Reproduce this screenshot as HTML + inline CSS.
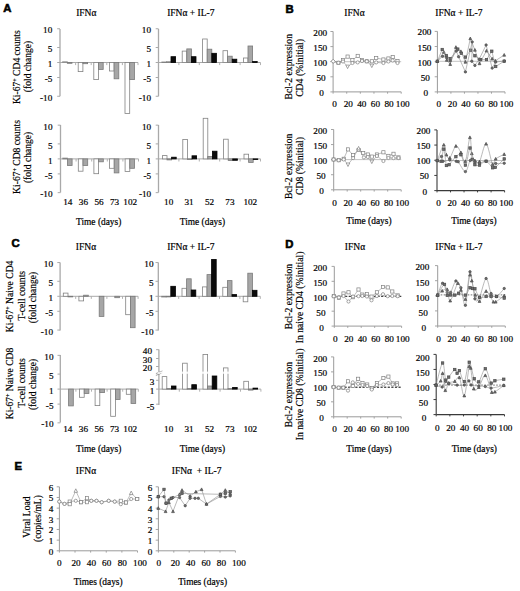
<!DOCTYPE html>
<html><head><meta charset="utf-8"><style>
html,body{margin:0;padding:0;background:#fff;}
body{width:520px;height:591px;overflow:hidden;}
svg{display:block;}
text{fill:#000;stroke:#000;stroke-width:0.2px;}
.Sm{font-family:"Liberation Serif",serif;text-anchor:middle;}
.Se{font-family:"Liberation Serif",serif;text-anchor:end;}
.Ss{font-family:"Liberation Serif",serif;text-anchor:start;}
.Bs{font-family:"Liberation Sans",sans-serif;font-weight:bold;text-anchor:start;}
</style></head><body>
<svg width="520" height="591" viewBox="0 0 520 591">
<rect width="520" height="591" fill="#fff"/>
<text class="Bs" x="3.2" y="12.4" font-size="11.3" style="stroke-width:0.6px">A</text>
<text class="Bs" x="285.4" y="12.6" font-size="11.3" style="stroke-width:0.6px">B</text>
<text class="Bs" x="11.6" y="246.8" font-size="11.3" style="stroke-width:0.6px">C</text>
<text class="Bs" x="285.2" y="248.0" font-size="11.3" style="stroke-width:0.6px">D</text>
<text class="Bs" x="14.4" y="470.2" font-size="11.3" style="stroke-width:0.6px">E</text>
<text class="Sm" x="86.3" y="16.0" font-size="9.5">IFN&#945;</text>
<text class="Sm" x="190.8" y="16.0" font-size="9.5">IFN&#945; + IL-7</text>
<text class="Sm" x="354.5" y="16.2" font-size="9.5">IFN&#945;</text>
<text class="Sm" x="458.9" y="16.0" font-size="9.5">IFN&#945; + IL-7</text>
<text class="Sm" x="86.0" y="250.4" font-size="9.5">IFN&#945;</text>
<text class="Sm" x="190.8" y="250.4" font-size="9.5">IFN&#945; + IL-7</text>
<text class="Sm" x="355.0" y="250.4" font-size="9.5">IFN&#945;</text>
<text class="Sm" x="458.9" y="250.4" font-size="9.5">IFN&#945; + IL-7</text>
<text class="Sm" x="86.0" y="474.2" font-size="9.5">IFN&#945;</text>
<text class="Sm" x="196.6" y="474.2" font-size="9.5">IFN&#945;&#160; + IL-7</text>
<line x1="60.0" y1="28.9" x2="60.0" y2="96.3" stroke="#a9a9a9" stroke-width="1.3"/>
<line x1="57.2" y1="28.75" x2="60.0" y2="28.75" stroke="#a9a9a9" stroke-width="1"/>
<text class="Se" x="52.3" y="33.05" font-size="9.2">10</text>
<line x1="57.2" y1="47.5" x2="60.0" y2="47.5" stroke="#a9a9a9" stroke-width="1"/>
<text class="Se" x="52.3" y="51.8" font-size="9.2">5</text>
<line x1="57.2" y1="62.5" x2="60.0" y2="62.5" stroke="#a9a9a9" stroke-width="1"/>
<text class="Se" x="52.3" y="66.8" font-size="9.2">1</text>
<line x1="57.2" y1="77.5" x2="60.0" y2="77.5" stroke="#a9a9a9" stroke-width="1"/>
<text class="Se" x="52.3" y="81.8" font-size="9.2">-5</text>
<line x1="57.2" y1="96.25" x2="60.0" y2="96.25" stroke="#a9a9a9" stroke-width="1"/>
<text class="Se" x="52.3" y="100.55" font-size="9.2">-10</text>
<line x1="60.0" y1="62.5" x2="138.0" y2="62.5" stroke="#a9a9a9" stroke-width="1"/>
<line x1="75.6" y1="62.5" x2="75.6" y2="65.1" stroke="#a9a9a9" stroke-width="0.9"/>
<line x1="91.2" y1="62.5" x2="91.2" y2="65.1" stroke="#a9a9a9" stroke-width="0.9"/>
<line x1="106.8" y1="62.5" x2="106.8" y2="65.1" stroke="#a9a9a9" stroke-width="0.9"/>
<line x1="122.4" y1="62.5" x2="122.4" y2="65.1" stroke="#a9a9a9" stroke-width="0.9"/>
<line x1="138.0" y1="62.5" x2="138.0" y2="65.1" stroke="#a9a9a9" stroke-width="0.9"/>
<rect x="62.60" y="61.80" width="4.7" height="0.70" fill="#ffffff" stroke="#828282" stroke-width="0.8"/>
<rect x="67.30" y="62.50" width="4.7" height="0.80" fill="#a6a6a6" stroke="#7a7a7a" stroke-width="0.8"/>
<rect x="78.20" y="62.50" width="4.7" height="9.10" fill="#ffffff" stroke="#828282" stroke-width="0.8"/>
<rect x="82.90" y="62.50" width="4.7" height="1.20" fill="#a6a6a6" stroke="#7a7a7a" stroke-width="0.8"/>
<rect x="93.80" y="62.50" width="4.7" height="17.10" fill="#ffffff" stroke="#828282" stroke-width="0.8"/>
<rect x="98.50" y="62.50" width="4.7" height="6.90" fill="#a6a6a6" stroke="#7a7a7a" stroke-width="0.8"/>
<rect x="109.40" y="62.50" width="4.7" height="8.50" fill="#ffffff" stroke="#828282" stroke-width="0.8"/>
<rect x="114.10" y="62.50" width="4.7" height="16.30" fill="#a6a6a6" stroke="#7a7a7a" stroke-width="0.8"/>
<rect x="125.00" y="62.50" width="4.7" height="50.90" fill="#ffffff" stroke="#828282" stroke-width="0.8"/>
<rect x="129.70" y="62.50" width="4.7" height="17.10" fill="#a6a6a6" stroke="#7a7a7a" stroke-width="0.8"/>
<line x1="158.5" y1="28.9" x2="158.5" y2="96.3" stroke="#a9a9a9" stroke-width="1.3"/>
<line x1="155.7" y1="28.75" x2="158.5" y2="28.75" stroke="#a9a9a9" stroke-width="1"/>
<text class="Se" x="151.0" y="33.35" font-size="9.2">10</text>
<line x1="155.7" y1="47.5" x2="158.5" y2="47.5" stroke="#a9a9a9" stroke-width="1"/>
<text class="Se" x="151.0" y="52.1" font-size="9.2">5</text>
<line x1="155.7" y1="62.5" x2="158.5" y2="62.5" stroke="#a9a9a9" stroke-width="1"/>
<text class="Se" x="151.0" y="67.1" font-size="9.2">1</text>
<line x1="155.7" y1="77.5" x2="158.5" y2="77.5" stroke="#a9a9a9" stroke-width="1"/>
<text class="Se" x="151.0" y="82.1" font-size="9.2">-5</text>
<line x1="155.7" y1="96.25" x2="158.5" y2="96.25" stroke="#a9a9a9" stroke-width="1"/>
<text class="Se" x="151.0" y="100.85" font-size="9.2">-10</text>
<line x1="158.5" y1="62.5" x2="260.5" y2="62.5" stroke="#a9a9a9" stroke-width="1"/>
<line x1="178.9" y1="62.5" x2="178.9" y2="65.1" stroke="#a9a9a9" stroke-width="0.9"/>
<line x1="199.3" y1="62.5" x2="199.3" y2="65.1" stroke="#a9a9a9" stroke-width="0.9"/>
<line x1="219.7" y1="62.5" x2="219.7" y2="65.1" stroke="#a9a9a9" stroke-width="0.9"/>
<line x1="240.1" y1="62.5" x2="240.1" y2="65.1" stroke="#a9a9a9" stroke-width="0.9"/>
<line x1="260.5" y1="62.5" x2="260.5" y2="65.1" stroke="#a9a9a9" stroke-width="0.9"/>
<rect x="161.80" y="62.00" width="4.6" height="0.60" fill="#ffffff" stroke="#828282" stroke-width="0.8"/>
<rect x="166.40" y="61.80" width="4.6" height="0.70" fill="#a6a6a6" stroke="#7a7a7a" stroke-width="0.8"/>
<rect x="171.00" y="56.70" width="4.6" height="5.80" fill="#0a0a0a" stroke="#000000" stroke-width="0.8"/>
<rect x="182.20" y="51.10" width="4.6" height="11.40" fill="#ffffff" stroke="#828282" stroke-width="0.8"/>
<rect x="186.80" y="48.90" width="4.6" height="13.60" fill="#a6a6a6" stroke="#7a7a7a" stroke-width="0.8"/>
<rect x="191.40" y="56.70" width="4.6" height="5.80" fill="#0a0a0a" stroke="#000000" stroke-width="0.8"/>
<rect x="202.60" y="39.00" width="4.6" height="23.50" fill="#ffffff" stroke="#828282" stroke-width="0.8"/>
<rect x="207.20" y="49.20" width="4.6" height="13.30" fill="#a6a6a6" stroke="#7a7a7a" stroke-width="0.8"/>
<rect x="211.80" y="53.30" width="4.6" height="9.20" fill="#0a0a0a" stroke="#000000" stroke-width="0.8"/>
<rect x="223.00" y="50.70" width="4.6" height="11.80" fill="#ffffff" stroke="#828282" stroke-width="0.8"/>
<rect x="227.60" y="56.20" width="4.6" height="6.30" fill="#a6a6a6" stroke="#7a7a7a" stroke-width="0.8"/>
<rect x="232.20" y="59.20" width="4.6" height="3.30" fill="#0a0a0a" stroke="#000000" stroke-width="0.8"/>
<rect x="243.40" y="58.00" width="4.6" height="4.50" fill="#ffffff" stroke="#828282" stroke-width="0.8"/>
<rect x="248.00" y="46.00" width="4.6" height="16.50" fill="#a6a6a6" stroke="#7a7a7a" stroke-width="0.8"/>
<rect x="252.60" y="61.50" width="4.6" height="1.00" fill="#0a0a0a" stroke="#000000" stroke-width="0.8"/>
<line x1="60.5" y1="125.0" x2="60.5" y2="192.5" stroke="#a9a9a9" stroke-width="1.3"/>
<line x1="57.7" y1="125.15" x2="60.5" y2="125.15" stroke="#a9a9a9" stroke-width="1"/>
<text class="Se" x="52.5" y="129.75" font-size="9.2">10</text>
<line x1="57.7" y1="143.9" x2="60.5" y2="143.9" stroke="#a9a9a9" stroke-width="1"/>
<text class="Se" x="52.5" y="148.5" font-size="9.2">5</text>
<line x1="57.7" y1="158.9" x2="60.5" y2="158.9" stroke="#a9a9a9" stroke-width="1"/>
<text class="Se" x="52.5" y="163.5" font-size="9.2">1</text>
<line x1="57.7" y1="173.9" x2="60.5" y2="173.9" stroke="#a9a9a9" stroke-width="1"/>
<text class="Se" x="52.5" y="178.5" font-size="9.2">-5</text>
<line x1="57.7" y1="192.65" x2="60.5" y2="192.65" stroke="#a9a9a9" stroke-width="1"/>
<text class="Se" x="52.5" y="197.25" font-size="9.2">-10</text>
<line x1="60.5" y1="158.9" x2="138.5" y2="158.9" stroke="#a9a9a9" stroke-width="1"/>
<line x1="76.1" y1="158.9" x2="76.1" y2="161.5" stroke="#a9a9a9" stroke-width="0.9"/>
<line x1="91.7" y1="158.9" x2="91.7" y2="161.5" stroke="#a9a9a9" stroke-width="0.9"/>
<line x1="107.3" y1="158.9" x2="107.3" y2="161.5" stroke="#a9a9a9" stroke-width="0.9"/>
<line x1="122.9" y1="158.9" x2="122.9" y2="161.5" stroke="#a9a9a9" stroke-width="0.9"/>
<line x1="138.5" y1="158.9" x2="138.5" y2="161.5" stroke="#a9a9a9" stroke-width="0.9"/>
<rect x="62.70" y="158.10" width="4.7" height="0.80" fill="#ffffff" stroke="#828282" stroke-width="0.8"/>
<rect x="67.40" y="158.90" width="4.7" height="6.60" fill="#a6a6a6" stroke="#7a7a7a" stroke-width="0.8"/>
<rect x="78.30" y="158.90" width="4.7" height="12.30" fill="#ffffff" stroke="#828282" stroke-width="0.8"/>
<rect x="83.00" y="158.90" width="4.7" height="6.60" fill="#a6a6a6" stroke="#7a7a7a" stroke-width="0.8"/>
<rect x="93.90" y="158.90" width="4.7" height="14.80" fill="#ffffff" stroke="#828282" stroke-width="0.8"/>
<rect x="98.60" y="158.90" width="4.7" height="2.90" fill="#a6a6a6" stroke="#7a7a7a" stroke-width="0.8"/>
<rect x="109.50" y="158.90" width="4.7" height="9.40" fill="#ffffff" stroke="#828282" stroke-width="0.8"/>
<rect x="114.20" y="158.90" width="4.7" height="14.00" fill="#a6a6a6" stroke="#7a7a7a" stroke-width="0.8"/>
<rect x="125.10" y="158.90" width="4.7" height="12.70" fill="#ffffff" stroke="#828282" stroke-width="0.8"/>
<rect x="129.80" y="158.90" width="4.7" height="9.40" fill="#a6a6a6" stroke="#7a7a7a" stroke-width="0.8"/>
<line x1="158.5" y1="125.0" x2="158.5" y2="192.5" stroke="#a9a9a9" stroke-width="1.3"/>
<line x1="155.7" y1="125.15" x2="158.5" y2="125.15" stroke="#a9a9a9" stroke-width="1"/>
<text class="Se" x="151.2" y="129.75" font-size="9.2">10</text>
<line x1="155.7" y1="143.9" x2="158.5" y2="143.9" stroke="#a9a9a9" stroke-width="1"/>
<text class="Se" x="151.2" y="148.5" font-size="9.2">5</text>
<line x1="155.7" y1="158.9" x2="158.5" y2="158.9" stroke="#a9a9a9" stroke-width="1"/>
<text class="Se" x="151.2" y="163.5" font-size="9.2">1</text>
<line x1="155.7" y1="173.9" x2="158.5" y2="173.9" stroke="#a9a9a9" stroke-width="1"/>
<text class="Se" x="151.2" y="178.5" font-size="9.2">-5</text>
<line x1="155.7" y1="192.65" x2="158.5" y2="192.65" stroke="#a9a9a9" stroke-width="1"/>
<text class="Se" x="151.2" y="197.25" font-size="9.2">-10</text>
<line x1="158.5" y1="158.9" x2="260.5" y2="158.9" stroke="#a9a9a9" stroke-width="1"/>
<line x1="178.9" y1="158.9" x2="178.9" y2="161.5" stroke="#a9a9a9" stroke-width="0.9"/>
<line x1="199.3" y1="158.9" x2="199.3" y2="161.5" stroke="#a9a9a9" stroke-width="0.9"/>
<line x1="219.7" y1="158.9" x2="219.7" y2="161.5" stroke="#a9a9a9" stroke-width="0.9"/>
<line x1="240.1" y1="158.9" x2="240.1" y2="161.5" stroke="#a9a9a9" stroke-width="0.9"/>
<line x1="260.5" y1="158.9" x2="260.5" y2="161.5" stroke="#a9a9a9" stroke-width="0.9"/>
<rect x="162.40" y="155.60" width="4.6" height="3.30" fill="#ffffff" stroke="#828282" stroke-width="0.8"/>
<rect x="167.00" y="158.90" width="4.6" height="1.00" fill="#a6a6a6" stroke="#7a7a7a" stroke-width="0.8"/>
<rect x="171.60" y="157.20" width="4.6" height="1.70" fill="#0a0a0a" stroke="#000000" stroke-width="0.8"/>
<rect x="182.80" y="139.50" width="4.6" height="19.40" fill="#ffffff" stroke="#828282" stroke-width="0.8"/>
<rect x="187.40" y="158.90" width="4.6" height="0.60" fill="#a6a6a6" stroke="#7a7a7a" stroke-width="0.8"/>
<rect x="192.00" y="155.80" width="4.6" height="3.10" fill="#0a0a0a" stroke="#000000" stroke-width="0.8"/>
<rect x="203.20" y="118.30" width="4.6" height="40.60" fill="#ffffff" stroke="#828282" stroke-width="0.8"/>
<rect x="207.80" y="156.40" width="4.6" height="2.50" fill="#a6a6a6" stroke="#7a7a7a" stroke-width="0.8"/>
<rect x="212.40" y="151.20" width="4.6" height="7.70" fill="#0a0a0a" stroke="#000000" stroke-width="0.8"/>
<rect x="223.60" y="139.20" width="4.6" height="19.70" fill="#ffffff" stroke="#828282" stroke-width="0.8"/>
<rect x="228.20" y="158.90" width="4.6" height="1.70" fill="#a6a6a6" stroke="#7a7a7a" stroke-width="0.8"/>
<rect x="232.80" y="158.90" width="4.6" height="1.40" fill="#0a0a0a" stroke="#000000" stroke-width="0.8"/>
<rect x="244.00" y="154.20" width="4.6" height="4.70" fill="#ffffff" stroke="#828282" stroke-width="0.8"/>
<rect x="248.60" y="158.90" width="4.6" height="3.50" fill="#a6a6a6" stroke="#7a7a7a" stroke-width="0.8"/>
<rect x="253.20" y="158.90" width="4.6" height="0.70" fill="#0a0a0a" stroke="#000000" stroke-width="0.8"/>
<text class="Sm" x="67.8" y="204.8" font-size="9.2">14</text>
<text class="Sm" x="83.4" y="204.8" font-size="9.2">36</text>
<text class="Sm" x="99.0" y="204.8" font-size="9.2">56</text>
<text class="Sm" x="114.6" y="204.8" font-size="9.2">73</text>
<text class="Sm" x="130.2" y="204.8" font-size="9.2">102</text>
<text class="Sm" x="168.7" y="204.8" font-size="9.2">10</text>
<text class="Sm" x="189.1" y="204.8" font-size="9.2">31</text>
<text class="Sm" x="209.5" y="204.8" font-size="9.2">52</text>
<text class="Sm" x="229.89999999999998" y="204.8" font-size="9.2">73</text>
<text class="Sm" x="250.3" y="204.8" font-size="9.2">102</text>
<text class="Sm" x="98.7" y="224.8" font-size="9.4">Time (days)</text>
<text class="Sm" x="202.4" y="224.8" font-size="9.4">Time (days)</text>
<text class="Sm" x="19.6" y="67.2" transform="rotate(-90 19.6 67.2)" font-size="9.6" style="stroke-width:0.18px">Ki-67<tspan font-size="6" dy="-3">+</tspan><tspan dy="3"> </tspan>CD4 counts</text>
<text class="Sm" x="31.0" y="66.5" transform="rotate(-90 31.0 66.5)" font-size="9.6" style="stroke-width:0.18px">(fold change)</text>
<text class="Sm" x="19.6" y="157.0" transform="rotate(-90 19.6 157.0)" font-size="9.6" style="stroke-width:0.18px">Ki-67<tspan font-size="6" dy="-3">+</tspan><tspan dy="3"> </tspan>CD8 counts</text>
<text class="Sm" x="31.0" y="157.4" transform="rotate(-90 31.0 157.4)" font-size="9.6" style="stroke-width:0.18px">(fold change)</text>
<line x1="60.1" y1="262.5" x2="60.1" y2="330.5" stroke="#a9a9a9" stroke-width="1.3"/>
<line x1="57.300000000000004" y1="262.55" x2="60.1" y2="262.55" stroke="#a9a9a9" stroke-width="1"/>
<text class="Se" x="53.0" y="267.45" font-size="9.2">10</text>
<line x1="57.300000000000004" y1="281.3" x2="60.1" y2="281.3" stroke="#a9a9a9" stroke-width="1"/>
<text class="Se" x="53.0" y="286.2" font-size="9.2">5</text>
<line x1="57.300000000000004" y1="296.3" x2="60.1" y2="296.3" stroke="#a9a9a9" stroke-width="1"/>
<text class="Se" x="53.0" y="301.2" font-size="9.2">1</text>
<line x1="57.300000000000004" y1="311.3" x2="60.1" y2="311.3" stroke="#a9a9a9" stroke-width="1"/>
<text class="Se" x="53.0" y="316.2" font-size="9.2">-5</text>
<line x1="57.300000000000004" y1="330.05" x2="60.1" y2="330.05" stroke="#a9a9a9" stroke-width="1"/>
<text class="Se" x="53.0" y="334.95" font-size="9.2">-10</text>
<line x1="60.1" y1="296.3" x2="138.1" y2="296.3" stroke="#a9a9a9" stroke-width="1"/>
<line x1="75.7" y1="296.3" x2="75.7" y2="298.90000000000003" stroke="#a9a9a9" stroke-width="0.9"/>
<line x1="91.3" y1="296.3" x2="91.3" y2="298.90000000000003" stroke="#a9a9a9" stroke-width="0.9"/>
<line x1="106.9" y1="296.3" x2="106.9" y2="298.90000000000003" stroke="#a9a9a9" stroke-width="0.9"/>
<line x1="122.5" y1="296.3" x2="122.5" y2="298.90000000000003" stroke="#a9a9a9" stroke-width="0.9"/>
<line x1="138.1" y1="296.3" x2="138.1" y2="298.90000000000003" stroke="#a9a9a9" stroke-width="0.9"/>
<rect x="63.30" y="293.10" width="4.7" height="3.20" fill="#ffffff" stroke="#828282" stroke-width="0.8"/>
<rect x="68.00" y="296.30" width="4.7" height="0.60" fill="#a6a6a6" stroke="#7a7a7a" stroke-width="0.8"/>
<rect x="78.90" y="296.30" width="4.7" height="4.60" fill="#ffffff" stroke="#828282" stroke-width="0.8"/>
<rect x="83.60" y="295.20" width="4.7" height="1.10" fill="#a6a6a6" stroke="#7a7a7a" stroke-width="0.8"/>
<rect x="99.20" y="296.30" width="4.7" height="20.10" fill="#a6a6a6" stroke="#7a7a7a" stroke-width="0.8"/>
<rect x="114.80" y="296.30" width="4.7" height="1.40" fill="#a6a6a6" stroke="#7a7a7a" stroke-width="0.8"/>
<rect x="125.70" y="296.30" width="4.7" height="18.40" fill="#ffffff" stroke="#828282" stroke-width="0.8"/>
<rect x="130.40" y="296.30" width="4.7" height="31.40" fill="#a6a6a6" stroke="#7a7a7a" stroke-width="0.8"/>
<line x1="158.3" y1="262.5" x2="158.3" y2="330.5" stroke="#a9a9a9" stroke-width="1.3"/>
<line x1="155.5" y1="262.55" x2="158.3" y2="262.55" stroke="#a9a9a9" stroke-width="1"/>
<text class="Se" x="153.5" y="267.45" font-size="9.2">10</text>
<line x1="155.5" y1="281.3" x2="158.3" y2="281.3" stroke="#a9a9a9" stroke-width="1"/>
<text class="Se" x="153.5" y="286.2" font-size="9.2">5</text>
<line x1="155.5" y1="296.3" x2="158.3" y2="296.3" stroke="#a9a9a9" stroke-width="1"/>
<text class="Se" x="153.5" y="301.2" font-size="9.2">1</text>
<line x1="155.5" y1="311.3" x2="158.3" y2="311.3" stroke="#a9a9a9" stroke-width="1"/>
<text class="Se" x="153.5" y="316.2" font-size="9.2">-5</text>
<line x1="155.5" y1="330.05" x2="158.3" y2="330.05" stroke="#a9a9a9" stroke-width="1"/>
<text class="Se" x="153.5" y="334.95" font-size="9.2">-10</text>
<line x1="158.3" y1="296.3" x2="260.3" y2="296.3" stroke="#a9a9a9" stroke-width="1"/>
<line x1="178.70000000000002" y1="296.3" x2="178.70000000000002" y2="298.90000000000003" stroke="#a9a9a9" stroke-width="0.9"/>
<line x1="199.10000000000002" y1="296.3" x2="199.10000000000002" y2="298.90000000000003" stroke="#a9a9a9" stroke-width="0.9"/>
<line x1="219.5" y1="296.3" x2="219.5" y2="298.90000000000003" stroke="#a9a9a9" stroke-width="0.9"/>
<line x1="239.9" y1="296.3" x2="239.9" y2="298.90000000000003" stroke="#a9a9a9" stroke-width="0.9"/>
<line x1="260.3" y1="296.3" x2="260.3" y2="298.90000000000003" stroke="#a9a9a9" stroke-width="0.9"/>
<rect x="161.60" y="296.30" width="4.6" height="0.70" fill="#ffffff" stroke="#828282" stroke-width="0.8"/>
<rect x="166.20" y="296.30" width="4.6" height="0.60" fill="#a6a6a6" stroke="#7a7a7a" stroke-width="0.8"/>
<rect x="170.80" y="286.30" width="4.6" height="10.00" fill="#0a0a0a" stroke="#000000" stroke-width="0.8"/>
<rect x="182.00" y="288.30" width="4.6" height="8.00" fill="#ffffff" stroke="#828282" stroke-width="0.8"/>
<rect x="186.60" y="278.80" width="4.6" height="17.50" fill="#a6a6a6" stroke="#7a7a7a" stroke-width="0.8"/>
<rect x="191.20" y="290.00" width="4.6" height="6.30" fill="#0a0a0a" stroke="#000000" stroke-width="0.8"/>
<rect x="202.40" y="286.90" width="4.6" height="9.40" fill="#ffffff" stroke="#828282" stroke-width="0.8"/>
<rect x="207.00" y="274.60" width="4.6" height="21.70" fill="#a6a6a6" stroke="#7a7a7a" stroke-width="0.8"/>
<rect x="211.60" y="259.40" width="4.6" height="36.90" fill="#0a0a0a" stroke="#000000" stroke-width="0.8"/>
<rect x="222.80" y="287.30" width="4.6" height="9.00" fill="#ffffff" stroke="#828282" stroke-width="0.8"/>
<rect x="227.40" y="280.60" width="4.6" height="15.70" fill="#a6a6a6" stroke="#7a7a7a" stroke-width="0.8"/>
<rect x="232.00" y="294.60" width="4.6" height="1.70" fill="#0a0a0a" stroke="#000000" stroke-width="0.8"/>
<rect x="243.20" y="296.30" width="4.6" height="5.50" fill="#ffffff" stroke="#828282" stroke-width="0.8"/>
<rect x="247.80" y="273.20" width="4.6" height="23.10" fill="#a6a6a6" stroke="#7a7a7a" stroke-width="0.8"/>
<rect x="252.40" y="290.30" width="4.6" height="6.00" fill="#0a0a0a" stroke="#000000" stroke-width="0.8"/>
<line x1="60.3" y1="355.0" x2="60.3" y2="422.5" stroke="#a9a9a9" stroke-width="1.3"/>
<line x1="57.5" y1="355.35" x2="60.3" y2="355.35" stroke="#a9a9a9" stroke-width="1"/>
<text class="Se" x="53.5" y="359.75" font-size="9.2">10</text>
<line x1="57.5" y1="374.1" x2="60.3" y2="374.1" stroke="#a9a9a9" stroke-width="1"/>
<text class="Se" x="53.5" y="378.5" font-size="9.2">5</text>
<line x1="57.5" y1="389.1" x2="60.3" y2="389.1" stroke="#a9a9a9" stroke-width="1"/>
<text class="Se" x="53.5" y="393.5" font-size="9.2">1</text>
<line x1="57.5" y1="404.1" x2="60.3" y2="404.1" stroke="#a9a9a9" stroke-width="1"/>
<text class="Se" x="53.5" y="408.5" font-size="9.2">-5</text>
<line x1="57.5" y1="422.85" x2="60.3" y2="422.85" stroke="#a9a9a9" stroke-width="1"/>
<text class="Se" x="53.5" y="427.25" font-size="9.2">-10</text>
<line x1="60.3" y1="389.1" x2="138.3" y2="389.1" stroke="#a9a9a9" stroke-width="1"/>
<line x1="75.89999999999999" y1="389.1" x2="75.89999999999999" y2="391.70000000000005" stroke="#a9a9a9" stroke-width="0.9"/>
<line x1="91.5" y1="389.1" x2="91.5" y2="391.70000000000005" stroke="#a9a9a9" stroke-width="0.9"/>
<line x1="107.1" y1="389.1" x2="107.1" y2="391.70000000000005" stroke="#a9a9a9" stroke-width="0.9"/>
<line x1="122.69999999999999" y1="389.1" x2="122.69999999999999" y2="391.70000000000005" stroke="#a9a9a9" stroke-width="0.9"/>
<line x1="138.3" y1="389.1" x2="138.3" y2="391.70000000000005" stroke="#a9a9a9" stroke-width="0.9"/>
<rect x="68.60" y="389.10" width="4.7" height="16.80" fill="#a6a6a6" stroke="#7a7a7a" stroke-width="0.8"/>
<rect x="79.50" y="389.10" width="4.7" height="8.20" fill="#ffffff" stroke="#828282" stroke-width="0.8"/>
<rect x="84.20" y="389.10" width="4.7" height="4.40" fill="#a6a6a6" stroke="#7a7a7a" stroke-width="0.8"/>
<rect x="95.10" y="389.10" width="4.7" height="16.50" fill="#ffffff" stroke="#828282" stroke-width="0.8"/>
<rect x="99.80" y="389.10" width="4.7" height="3.50" fill="#a6a6a6" stroke="#7a7a7a" stroke-width="0.8"/>
<rect x="110.70" y="389.10" width="4.7" height="27.20" fill="#ffffff" stroke="#828282" stroke-width="0.8"/>
<rect x="115.40" y="389.10" width="4.7" height="10.40" fill="#a6a6a6" stroke="#7a7a7a" stroke-width="0.8"/>
<rect x="126.30" y="389.10" width="4.7" height="5.20" fill="#ffffff" stroke="#828282" stroke-width="0.8"/>
<rect x="131.00" y="389.10" width="4.7" height="14.40" fill="#a6a6a6" stroke="#7a7a7a" stroke-width="0.8"/>
<line x1="158.9" y1="349.5" x2="158.9" y2="405" stroke="#a9a9a9" stroke-width="1.3"/>
<line x1="156.1" y1="349.7" x2="158.9" y2="349.7" stroke="#a9a9a9" stroke-width="1"/>
<text class="Se" x="152.0" y="354.1" font-size="9.2">40</text>
<line x1="156.1" y1="358.5" x2="158.9" y2="358.5" stroke="#a9a9a9" stroke-width="1"/>
<text class="Se" x="152.0" y="362.9" font-size="9.2">30</text>
<line x1="156.1" y1="366.5" x2="158.9" y2="366.5" stroke="#a9a9a9" stroke-width="1"/>
<text class="Se" x="152.0" y="370.9" font-size="9.2">20</text>
<line x1="156.1" y1="380.3" x2="158.9" y2="380.3" stroke="#a9a9a9" stroke-width="1"/>
<text class="Se" x="154.3" y="384.7" font-size="9.2">3</text>
<line x1="156.1" y1="389.1" x2="158.9" y2="389.1" stroke="#a9a9a9" stroke-width="1"/>
<text class="Se" x="154.3" y="393.5" font-size="9.2">1</text>
<line x1="156.1" y1="404.2" x2="158.9" y2="404.2" stroke="#a9a9a9" stroke-width="1"/>
<text class="Se" x="154.3" y="409.8" font-size="9.2">-5</text>
<line x1="155.9" y1="373.6" x2="162.4" y2="371.0" stroke="#888" stroke-width="0.8"/>
<line x1="155.9" y1="375.4" x2="162.4" y2="372.8" stroke="#888" stroke-width="0.8"/>
<rect x="157.9" y="372.2" width="2" height="1.6" fill="#fff"/>
<line x1="158.9" y1="389.1" x2="260.9" y2="389.1" stroke="#a9a9a9" stroke-width="1"/>
<line x1="179.3" y1="389.1" x2="179.3" y2="391.70000000000005" stroke="#a9a9a9" stroke-width="0.9"/>
<line x1="199.7" y1="389.1" x2="199.7" y2="391.70000000000005" stroke="#a9a9a9" stroke-width="0.9"/>
<line x1="220.1" y1="389.1" x2="220.1" y2="391.70000000000005" stroke="#a9a9a9" stroke-width="0.9"/>
<line x1="240.5" y1="389.1" x2="240.5" y2="391.70000000000005" stroke="#a9a9a9" stroke-width="0.9"/>
<line x1="260.9" y1="389.1" x2="260.9" y2="391.70000000000005" stroke="#a9a9a9" stroke-width="0.9"/>
<rect x="162.20" y="376.60" width="4.6" height="12.50" fill="#ffffff" stroke="#828282" stroke-width="0.8"/>
<rect x="166.80" y="388.60" width="4.6" height="0.60" fill="#a6a6a6" stroke="#7a7a7a" stroke-width="0.8"/>
<rect x="171.40" y="386.00" width="4.6" height="3.10" fill="#0a0a0a" stroke="#000" stroke-width="0.8"/>
<rect x="182.60" y="363.20" width="4.6" height="25.90" fill="#ffffff" stroke="#828282" stroke-width="0.8"/>
<rect x="187.20" y="388.60" width="4.6" height="0.60" fill="#a6a6a6" stroke="#7a7a7a" stroke-width="0.8"/>
<rect x="191.80" y="384.70" width="4.6" height="4.40" fill="#0a0a0a" stroke="#000" stroke-width="0.8"/>
<rect x="203.00" y="354.40" width="4.6" height="34.70" fill="#ffffff" stroke="#828282" stroke-width="0.8"/>
<rect x="207.60" y="386.00" width="4.6" height="3.10" fill="#a6a6a6" stroke="#7a7a7a" stroke-width="0.8"/>
<rect x="212.20" y="376.00" width="4.6" height="13.10" fill="#0a0a0a" stroke="#000" stroke-width="0.8"/>
<rect x="223.40" y="367.90" width="4.6" height="21.20" fill="#ffffff" stroke="#828282" stroke-width="0.8"/>
<rect x="228.00" y="388.60" width="4.6" height="0.60" fill="#a6a6a6" stroke="#7a7a7a" stroke-width="0.8"/>
<rect x="232.60" y="387.40" width="4.6" height="1.70" fill="#0a0a0a" stroke="#000" stroke-width="0.8"/>
<rect x="243.80" y="381.30" width="4.6" height="7.80" fill="#ffffff" stroke="#828282" stroke-width="0.8"/>
<rect x="248.40" y="389.10" width="4.6" height="1.00" fill="#a6a6a6" stroke="#7a7a7a" stroke-width="0.8"/>
<rect x="253.00" y="388.10" width="4.6" height="1.00" fill="#0a0a0a" stroke="#000" stroke-width="0.8"/>
<rect x="160.4" y="371.6" width="100.0" height="2.2" fill="#fff" opacity="0.85"/>
<text class="Sm" x="67.8" y="432.3" font-size="9.2">14</text>
<text class="Sm" x="83.4" y="432.3" font-size="9.2">36</text>
<text class="Sm" x="99.0" y="432.3" font-size="9.2">56</text>
<text class="Sm" x="114.6" y="432.3" font-size="9.2">73</text>
<text class="Sm" x="130.2" y="432.3" font-size="9.2">102</text>
<text class="Sm" x="168.7" y="432.3" font-size="9.2">10</text>
<text class="Sm" x="189.1" y="432.3" font-size="9.2">31</text>
<text class="Sm" x="209.5" y="432.3" font-size="9.2">52</text>
<text class="Sm" x="229.89999999999998" y="432.3" font-size="9.2">73</text>
<text class="Sm" x="250.3" y="432.3" font-size="9.2">102</text>
<text class="Sm" x="98.7" y="451.6" font-size="9.4">Time (days)</text>
<text class="Sm" x="202.4" y="451.6" font-size="9.4">Time (days)</text>
<text class="Sm" x="12.6" y="296.4" transform="rotate(-90 12.6 296.4)" font-size="9.6" style="stroke-width:0.18px">Ki-67<tspan font-size="6" dy="-3">+</tspan><tspan dy="3"> </tspan>Naive CD4</text>
<text class="Sm" x="24.8" y="295.7" transform="rotate(-90 24.8 295.7)" font-size="9.6" style="stroke-width:0.18px">T-cell counts</text>
<text class="Sm" x="35.8" y="297.5" transform="rotate(-90 35.8 297.5)" font-size="9.6" style="stroke-width:0.18px">(fold change)</text>
<text class="Sm" x="12.6" y="383.5" transform="rotate(-90 12.6 383.5)" font-size="9.6" style="stroke-width:0.18px">Ki-67<tspan font-size="6" dy="-3">+</tspan><tspan dy="3"> </tspan>Naive CD8</text>
<text class="Sm" x="24.8" y="383.0" transform="rotate(-90 24.8 383.0)" font-size="9.6" style="stroke-width:0.18px">T-cell counts</text>
<text class="Sm" x="35.8" y="384.4" transform="rotate(-90 35.8 384.4)" font-size="9.6" style="stroke-width:0.18px">(fold change)</text>
<line x1="333.1" y1="31.5" x2="333.1" y2="91.9" stroke="#9a9a9a" stroke-width="1.0"/>
<line x1="333.1" y1="91.9" x2="401.2" y2="91.9" stroke="#9a9a9a" stroke-width="1.0"/>
<line x1="330.40000000000003" y1="31.50" x2="333.1" y2="31.50" stroke="#9a9a9a" stroke-width="0.9"/>
<text class="Se" x="327.1" y="35.5" font-size="9.2">200</text>
<line x1="330.40000000000003" y1="46.60" x2="333.1" y2="46.60" stroke="#9a9a9a" stroke-width="0.9"/>
<text class="Se" x="327.1" y="50.6" font-size="9.2">150</text>
<line x1="330.40000000000003" y1="61.70" x2="333.1" y2="61.70" stroke="#9a9a9a" stroke-width="0.9"/>
<text class="Se" x="327.1" y="65.7" font-size="9.2">100</text>
<line x1="330.40000000000003" y1="76.80" x2="333.1" y2="76.80" stroke="#9a9a9a" stroke-width="0.9"/>
<text class="Se" x="325.6" y="80.8" font-size="9.2">50</text>
<line x1="330.40000000000003" y1="91.90" x2="333.1" y2="91.90" stroke="#9a9a9a" stroke-width="0.9"/>
<text class="Se" x="323.9" y="95.9" font-size="9.2">0</text>
<line x1="333.10" y1="91.9" x2="333.10" y2="93.7" stroke="#9a9a9a" stroke-width="0.9"/>
<text class="Sm" x="334.6" y="107.4" font-size="9.2">0</text>
<line x1="346.72" y1="91.9" x2="346.72" y2="93.7" stroke="#9a9a9a" stroke-width="0.9"/>
<text class="Sm" x="348.22" y="107.4" font-size="9.2">20</text>
<line x1="360.34" y1="91.9" x2="360.34" y2="93.7" stroke="#9a9a9a" stroke-width="0.9"/>
<text class="Sm" x="361.84" y="107.4" font-size="9.2">40</text>
<line x1="373.96" y1="91.9" x2="373.96" y2="93.7" stroke="#9a9a9a" stroke-width="0.9"/>
<text class="Sm" x="375.46" y="107.4" font-size="9.2">60</text>
<line x1="387.58" y1="91.9" x2="387.58" y2="93.7" stroke="#9a9a9a" stroke-width="0.9"/>
<text class="Sm" x="389.08" y="107.4" font-size="9.2">80</text>
<line x1="401.20" y1="91.9" x2="401.20" y2="93.7" stroke="#9a9a9a" stroke-width="0.9"/>
<text class="Sm" x="402.7" y="107.4" font-size="9.2">100</text>
<line x1="333.1" y1="61.7" x2="401.2" y2="61.7" stroke="#9a9a9a" stroke-width="0.6"/>
<polyline points="333.20,61.30 338.40,62.80 343.00,60.20 347.60,56.60 352.40,60.20 357.70,55.90 362.00,60.20 366.80,61.30 371.80,61.30 376.20,58.00 383.40,59.50 388.40,58.50 392.70,57.00 397.50,61.00" fill="none" stroke="#999999" stroke-width="0.65"/>
<path d="M333.20 59.30L335.20 61.30L333.20 63.30L331.20 61.30Z" fill="#ffffff" stroke="#808080" stroke-width="0.7"/>
<rect x="336.80" y="61.20" width="3.2" height="3.2" fill="#ffffff" stroke="#808080" stroke-width="0.7"/>
<rect x="341.40" y="58.60" width="3.2" height="3.2" fill="#ffffff" stroke="#808080" stroke-width="0.7"/>
<rect x="346.00" y="55.00" width="3.2" height="3.2" fill="#ffffff" stroke="#808080" stroke-width="0.7"/>
<rect x="350.80" y="58.60" width="3.2" height="3.2" fill="#ffffff" stroke="#808080" stroke-width="0.7"/>
<rect x="356.10" y="54.30" width="3.2" height="3.2" fill="#ffffff" stroke="#808080" stroke-width="0.7"/>
<rect x="360.40" y="58.60" width="3.2" height="3.2" fill="#ffffff" stroke="#808080" stroke-width="0.7"/>
<rect x="365.20" y="59.70" width="3.2" height="3.2" fill="#ffffff" stroke="#808080" stroke-width="0.7"/>
<rect x="370.20" y="59.70" width="3.2" height="3.2" fill="#ffffff" stroke="#808080" stroke-width="0.7"/>
<rect x="374.60" y="56.40" width="3.2" height="3.2" fill="#ffffff" stroke="#808080" stroke-width="0.7"/>
<rect x="381.80" y="57.90" width="3.2" height="3.2" fill="#ffffff" stroke="#808080" stroke-width="0.7"/>
<rect x="386.80" y="56.90" width="3.2" height="3.2" fill="#ffffff" stroke="#808080" stroke-width="0.7"/>
<rect x="391.10" y="55.40" width="3.2" height="3.2" fill="#ffffff" stroke="#808080" stroke-width="0.7"/>
<rect x="395.90" y="59.40" width="3.2" height="3.2" fill="#ffffff" stroke="#808080" stroke-width="0.7"/>
<polyline points="333.20,61.30 338.40,62.80 343.00,61.50 347.60,66.70 352.40,63.00 357.70,62.40 362.00,61.00 366.80,61.30 371.80,65.70 376.20,62.40 383.40,63.00 388.40,61.50 392.70,60.50 397.50,63.00" fill="none" stroke="#999999" stroke-width="0.65"/>
<path d="M333.20 59.30L335.20 61.30L333.20 63.30L331.20 61.30Z" fill="#ffffff" stroke="#808080" stroke-width="0.7"/>
<circle cx="338.40" cy="62.80" r="1.6" fill="#ffffff" stroke="#808080" stroke-width="0.7"/>
<circle cx="343.00" cy="61.50" r="1.6" fill="#ffffff" stroke="#808080" stroke-width="0.7"/>
<path d="M347.60 68.60L349.40 65.10L345.80 65.10Z" fill="#ffffff" stroke="#808080" stroke-width="0.7"/>
<circle cx="352.40" cy="63.00" r="1.6" fill="#ffffff" stroke="#808080" stroke-width="0.7"/>
<circle cx="357.70" cy="62.40" r="1.6" fill="#ffffff" stroke="#808080" stroke-width="0.7"/>
<circle cx="362.00" cy="61.00" r="1.6" fill="#ffffff" stroke="#808080" stroke-width="0.7"/>
<circle cx="366.80" cy="61.30" r="1.6" fill="#ffffff" stroke="#808080" stroke-width="0.7"/>
<path d="M371.80 67.60L373.60 64.10L370.00 64.10Z" fill="#ffffff" stroke="#808080" stroke-width="0.7"/>
<circle cx="376.20" cy="62.40" r="1.6" fill="#ffffff" stroke="#808080" stroke-width="0.7"/>
<circle cx="383.40" cy="63.00" r="1.6" fill="#ffffff" stroke="#808080" stroke-width="0.7"/>
<circle cx="388.40" cy="61.50" r="1.6" fill="#ffffff" stroke="#808080" stroke-width="0.7"/>
<circle cx="392.70" cy="60.50" r="1.6" fill="#ffffff" stroke="#808080" stroke-width="0.7"/>
<circle cx="397.50" cy="63.00" r="1.6" fill="#ffffff" stroke="#808080" stroke-width="0.7"/>
<line x1="437.4" y1="31.4" x2="437.4" y2="91.9" stroke="#9a9a9a" stroke-width="1.0"/>
<line x1="437.4" y1="91.9" x2="505.0" y2="91.9" stroke="#9a9a9a" stroke-width="1.0"/>
<line x1="434.7" y1="31.40" x2="437.4" y2="31.40" stroke="#9a9a9a" stroke-width="0.9"/>
<text class="Se" x="431.4" y="35.4" font-size="9.2">200</text>
<line x1="434.7" y1="46.52" x2="437.4" y2="46.52" stroke="#9a9a9a" stroke-width="0.9"/>
<text class="Se" x="431.4" y="50.52" font-size="9.2">150</text>
<line x1="434.7" y1="61.65" x2="437.4" y2="61.65" stroke="#9a9a9a" stroke-width="0.9"/>
<text class="Se" x="431.4" y="65.65" font-size="9.2">100</text>
<line x1="434.7" y1="76.78" x2="437.4" y2="76.78" stroke="#9a9a9a" stroke-width="0.9"/>
<text class="Se" x="429.9" y="80.78" font-size="9.2">50</text>
<line x1="434.7" y1="91.90" x2="437.4" y2="91.90" stroke="#9a9a9a" stroke-width="0.9"/>
<text class="Se" x="428.2" y="95.9" font-size="9.2">0</text>
<line x1="437.40" y1="91.9" x2="437.40" y2="93.7" stroke="#9a9a9a" stroke-width="0.9"/>
<text class="Sm" x="438.9" y="107.4" font-size="9.2">0</text>
<line x1="450.92" y1="91.9" x2="450.92" y2="93.7" stroke="#9a9a9a" stroke-width="0.9"/>
<text class="Sm" x="452.42" y="107.4" font-size="9.2">20</text>
<line x1="464.44" y1="91.9" x2="464.44" y2="93.7" stroke="#9a9a9a" stroke-width="0.9"/>
<text class="Sm" x="465.94" y="107.4" font-size="9.2">40</text>
<line x1="477.96" y1="91.9" x2="477.96" y2="93.7" stroke="#9a9a9a" stroke-width="0.9"/>
<text class="Sm" x="479.46" y="107.4" font-size="9.2">60</text>
<line x1="491.48" y1="91.9" x2="491.48" y2="93.7" stroke="#9a9a9a" stroke-width="0.9"/>
<text class="Sm" x="492.98" y="107.4" font-size="9.2">80</text>
<line x1="505.00" y1="91.9" x2="505.00" y2="93.7" stroke="#9a9a9a" stroke-width="0.9"/>
<text class="Sm" x="506.5" y="107.4" font-size="9.2">100</text>
<line x1="437.4" y1="61.3" x2="505" y2="61.3" stroke="#9a9a9a" stroke-width="0.6"/>
<polyline points="437.30,61.30 443.80,52.10 446.80,60.10 450.20,64.30 455.90,47.20 460.90,51.40 465.40,62.00 470.30,38.50 474.90,50.00 479.50,63.50 486.50,50.80 492.20,58.80 495.30,60.80 504.20,55.00" fill="none" stroke="#959595" stroke-width="0.65"/>
<path d="M437.30 59.80L438.70 62.50L435.90 62.50Z" fill="#6e6e6e" stroke="#4a4a4a" stroke-width="0.7"/>
<path d="M443.80 50.60L445.20 53.30L442.40 53.30Z" fill="#6e6e6e" stroke="#4a4a4a" stroke-width="0.7"/>
<path d="M446.80 58.60L448.20 61.30L445.40 61.30Z" fill="#6e6e6e" stroke="#4a4a4a" stroke-width="0.7"/>
<path d="M450.20 62.80L451.60 65.50L448.80 65.50Z" fill="#6e6e6e" stroke="#4a4a4a" stroke-width="0.7"/>
<path d="M455.90 45.70L457.30 48.40L454.50 48.40Z" fill="#6e6e6e" stroke="#4a4a4a" stroke-width="0.7"/>
<path d="M460.90 49.90L462.30 52.60L459.50 52.60Z" fill="#6e6e6e" stroke="#4a4a4a" stroke-width="0.7"/>
<path d="M465.40 60.50L466.80 63.20L464.00 63.20Z" fill="#6e6e6e" stroke="#4a4a4a" stroke-width="0.7"/>
<path d="M470.30 37.00L471.70 39.70L468.90 39.70Z" fill="#6e6e6e" stroke="#4a4a4a" stroke-width="0.7"/>
<path d="M474.90 48.50L476.30 51.20L473.50 51.20Z" fill="#6e6e6e" stroke="#4a4a4a" stroke-width="0.7"/>
<path d="M479.50 62.00L480.90 64.70L478.10 64.70Z" fill="#6e6e6e" stroke="#4a4a4a" stroke-width="0.7"/>
<path d="M486.50 49.30L487.90 52.00L485.10 52.00Z" fill="#6e6e6e" stroke="#4a4a4a" stroke-width="0.7"/>
<path d="M492.20 57.30L493.60 60.00L490.80 60.00Z" fill="#6e6e6e" stroke="#4a4a4a" stroke-width="0.7"/>
<path d="M495.30 59.30L496.70 62.00L493.90 62.00Z" fill="#6e6e6e" stroke="#4a4a4a" stroke-width="0.7"/>
<path d="M504.20 53.50L505.60 56.20L502.80 56.20Z" fill="#6e6e6e" stroke="#4a4a4a" stroke-width="0.7"/>
<polyline points="437.30,61.30 442.20,49.50 446.40,55.50 450.20,58.60 457.80,49.10 461.30,53.30 465.40,57.10 470.80,50.20 474.90,55.80 480.70,59.60 486.50,59.60 491.80,51.20 495.70,66.50 504.20,61.20" fill="none" stroke="#959595" stroke-width="0.65"/>
<rect x="436.10" y="60.10" width="2.4" height="2.4" fill="#6e6e6e" stroke="#4a4a4a" stroke-width="0.7"/>
<rect x="441.00" y="48.30" width="2.4" height="2.4" fill="#6e6e6e" stroke="#4a4a4a" stroke-width="0.7"/>
<rect x="445.20" y="54.30" width="2.4" height="2.4" fill="#6e6e6e" stroke="#4a4a4a" stroke-width="0.7"/>
<rect x="449.00" y="57.40" width="2.4" height="2.4" fill="#6e6e6e" stroke="#4a4a4a" stroke-width="0.7"/>
<rect x="456.60" y="47.90" width="2.4" height="2.4" fill="#6e6e6e" stroke="#4a4a4a" stroke-width="0.7"/>
<rect x="460.10" y="52.10" width="2.4" height="2.4" fill="#6e6e6e" stroke="#4a4a4a" stroke-width="0.7"/>
<rect x="464.20" y="55.90" width="2.4" height="2.4" fill="#6e6e6e" stroke="#4a4a4a" stroke-width="0.7"/>
<rect x="469.60" y="49.00" width="2.4" height="2.4" fill="#6e6e6e" stroke="#4a4a4a" stroke-width="0.7"/>
<rect x="473.70" y="54.60" width="2.4" height="2.4" fill="#6e6e6e" stroke="#4a4a4a" stroke-width="0.7"/>
<rect x="479.50" y="58.40" width="2.4" height="2.4" fill="#6e6e6e" stroke="#4a4a4a" stroke-width="0.7"/>
<rect x="485.30" y="58.40" width="2.4" height="2.4" fill="#6e6e6e" stroke="#4a4a4a" stroke-width="0.7"/>
<rect x="490.60" y="50.00" width="2.4" height="2.4" fill="#6e6e6e" stroke="#4a4a4a" stroke-width="0.7"/>
<rect x="494.50" y="65.30" width="2.4" height="2.4" fill="#6e6e6e" stroke="#4a4a4a" stroke-width="0.7"/>
<rect x="503.00" y="60.00" width="2.4" height="2.4" fill="#6e6e6e" stroke="#4a4a4a" stroke-width="0.7"/>
<polyline points="437.30,61.30 442.60,56.30 446.80,58.00 450.20,61.00 456.30,51.00 458.60,56.70 465.40,71.90 472.20,41.90 471.80,61.20 474.90,65.40 479.20,59.20 486.10,45.00 492.20,68.10 495.70,62.00 504.20,61.00" fill="none" stroke="#959595" stroke-width="0.65"/>
<circle cx="437.30" cy="61.30" r="1.2" fill="#6e6e6e" stroke="#4a4a4a" stroke-width="0.7"/>
<circle cx="442.60" cy="56.30" r="1.2" fill="#6e6e6e" stroke="#4a4a4a" stroke-width="0.7"/>
<circle cx="446.80" cy="58.00" r="1.2" fill="#6e6e6e" stroke="#4a4a4a" stroke-width="0.7"/>
<circle cx="450.20" cy="61.00" r="1.2" fill="#6e6e6e" stroke="#4a4a4a" stroke-width="0.7"/>
<circle cx="456.30" cy="51.00" r="1.2" fill="#6e6e6e" stroke="#4a4a4a" stroke-width="0.7"/>
<circle cx="458.60" cy="56.70" r="1.2" fill="#6e6e6e" stroke="#4a4a4a" stroke-width="0.7"/>
<circle cx="465.40" cy="71.90" r="1.2" fill="#6e6e6e" stroke="#4a4a4a" stroke-width="0.7"/>
<circle cx="472.20" cy="41.90" r="1.2" fill="#6e6e6e" stroke="#4a4a4a" stroke-width="0.7"/>
<circle cx="471.80" cy="61.20" r="1.2" fill="#6e6e6e" stroke="#4a4a4a" stroke-width="0.7"/>
<circle cx="474.90" cy="65.40" r="1.2" fill="#6e6e6e" stroke="#4a4a4a" stroke-width="0.7"/>
<circle cx="479.20" cy="59.20" r="1.2" fill="#6e6e6e" stroke="#4a4a4a" stroke-width="0.7"/>
<circle cx="486.10" cy="45.00" r="1.2" fill="#6e6e6e" stroke="#4a4a4a" stroke-width="0.7"/>
<circle cx="492.20" cy="68.10" r="1.2" fill="#6e6e6e" stroke="#4a4a4a" stroke-width="0.7"/>
<circle cx="495.70" cy="62.00" r="1.2" fill="#6e6e6e" stroke="#4a4a4a" stroke-width="0.7"/>
<circle cx="504.20" cy="61.00" r="1.2" fill="#6e6e6e" stroke="#4a4a4a" stroke-width="0.7"/>
<line x1="333.7" y1="129.5" x2="333.7" y2="189.8" stroke="#9a9a9a" stroke-width="1.0"/>
<line x1="333.7" y1="189.8" x2="401.2" y2="189.8" stroke="#9a9a9a" stroke-width="1.0"/>
<line x1="331.0" y1="129.50" x2="333.7" y2="129.50" stroke="#9a9a9a" stroke-width="0.9"/>
<text class="Se" x="327.1" y="134.1" font-size="9.2">200</text>
<line x1="331.0" y1="144.57" x2="333.7" y2="144.57" stroke="#9a9a9a" stroke-width="0.9"/>
<text class="Se" x="327.1" y="149.17" font-size="9.2">150</text>
<line x1="331.0" y1="159.65" x2="333.7" y2="159.65" stroke="#9a9a9a" stroke-width="0.9"/>
<text class="Se" x="327.1" y="164.25" font-size="9.2">100</text>
<line x1="331.0" y1="174.73" x2="333.7" y2="174.73" stroke="#9a9a9a" stroke-width="0.9"/>
<text class="Se" x="325.6" y="179.33" font-size="9.2">50</text>
<line x1="331.0" y1="189.80" x2="333.7" y2="189.80" stroke="#9a9a9a" stroke-width="0.9"/>
<text class="Se" x="323.9" y="194.4" font-size="9.2">0</text>
<line x1="333.70" y1="189.8" x2="333.70" y2="191.60000000000002" stroke="#9a9a9a" stroke-width="0.9"/>
<text class="Sm" x="334.6" y="205.9" font-size="9.2">0</text>
<line x1="347.20" y1="189.8" x2="347.20" y2="191.60000000000002" stroke="#9a9a9a" stroke-width="0.9"/>
<text class="Sm" x="348.1" y="205.9" font-size="9.2">20</text>
<line x1="360.70" y1="189.8" x2="360.70" y2="191.60000000000002" stroke="#9a9a9a" stroke-width="0.9"/>
<text class="Sm" x="361.6" y="205.9" font-size="9.2">40</text>
<line x1="374.20" y1="189.8" x2="374.20" y2="191.60000000000002" stroke="#9a9a9a" stroke-width="0.9"/>
<text class="Sm" x="375.1" y="205.9" font-size="9.2">60</text>
<line x1="387.70" y1="189.8" x2="387.70" y2="191.60000000000002" stroke="#9a9a9a" stroke-width="0.9"/>
<text class="Sm" x="388.6" y="205.9" font-size="9.2">80</text>
<line x1="401.20" y1="189.8" x2="401.20" y2="191.60000000000002" stroke="#9a9a9a" stroke-width="0.9"/>
<text class="Sm" x="402.1" y="205.9" font-size="9.2">100</text>
<line x1="333.7" y1="159.6" x2="401.2" y2="159.6" stroke="#9a9a9a" stroke-width="0.6"/>
<polyline points="333.60,159.50 338.70,160.20 343.70,158.80 348.00,149.40 353.10,155.20 358.60,150.00 363.20,153.00 367.80,154.50 371.80,156.60 376.90,154.50 383.40,152.30 388.40,155.90 393.50,153.80 398.50,157.40" fill="none" stroke="#999999" stroke-width="0.65"/>
<rect x="332.00" y="157.90" width="3.2" height="3.2" fill="#ffffff" stroke="#808080" stroke-width="0.7"/>
<rect x="337.10" y="158.60" width="3.2" height="3.2" fill="#ffffff" stroke="#808080" stroke-width="0.7"/>
<rect x="342.10" y="157.20" width="3.2" height="3.2" fill="#ffffff" stroke="#808080" stroke-width="0.7"/>
<rect x="346.40" y="147.80" width="3.2" height="3.2" fill="#ffffff" stroke="#808080" stroke-width="0.7"/>
<rect x="351.50" y="153.60" width="3.2" height="3.2" fill="#ffffff" stroke="#808080" stroke-width="0.7"/>
<rect x="357.00" y="148.40" width="3.2" height="3.2" fill="#ffffff" stroke="#808080" stroke-width="0.7"/>
<rect x="361.60" y="151.40" width="3.2" height="3.2" fill="#ffffff" stroke="#808080" stroke-width="0.7"/>
<rect x="366.20" y="152.90" width="3.2" height="3.2" fill="#ffffff" stroke="#808080" stroke-width="0.7"/>
<rect x="370.20" y="155.00" width="3.2" height="3.2" fill="#ffffff" stroke="#808080" stroke-width="0.7"/>
<rect x="375.30" y="152.90" width="3.2" height="3.2" fill="#ffffff" stroke="#808080" stroke-width="0.7"/>
<rect x="381.80" y="150.70" width="3.2" height="3.2" fill="#ffffff" stroke="#808080" stroke-width="0.7"/>
<rect x="386.80" y="154.30" width="3.2" height="3.2" fill="#ffffff" stroke="#808080" stroke-width="0.7"/>
<rect x="391.90" y="152.20" width="3.2" height="3.2" fill="#ffffff" stroke="#808080" stroke-width="0.7"/>
<rect x="396.90" y="155.80" width="3.2" height="3.2" fill="#ffffff" stroke="#808080" stroke-width="0.7"/>
<polyline points="333.60,159.50 338.70,160.20 343.70,159.50 348.00,164.60 353.10,158.10 358.60,148.30 363.90,157.40 367.80,157.00 371.80,161.70 376.90,156.00 383.40,161.00 388.40,158.00 393.50,158.10 398.50,158.00" fill="none" stroke="#999999" stroke-width="0.65"/>
<circle cx="333.60" cy="159.50" r="1.6" fill="#ffffff" stroke="#808080" stroke-width="0.7"/>
<circle cx="338.70" cy="160.20" r="1.6" fill="#ffffff" stroke="#808080" stroke-width="0.7"/>
<circle cx="343.70" cy="159.50" r="1.6" fill="#ffffff" stroke="#808080" stroke-width="0.7"/>
<path d="M348.00 166.50L349.80 163.00L346.20 163.00Z" fill="#ffffff" stroke="#808080" stroke-width="0.7"/>
<circle cx="353.10" cy="158.10" r="1.6" fill="#ffffff" stroke="#808080" stroke-width="0.7"/>
<path d="M358.60 146.40L360.40 149.90L356.80 149.90Z" fill="#ffffff" stroke="#808080" stroke-width="0.7"/>
<circle cx="363.90" cy="157.40" r="1.6" fill="#ffffff" stroke="#808080" stroke-width="0.7"/>
<circle cx="367.80" cy="157.00" r="1.6" fill="#ffffff" stroke="#808080" stroke-width="0.7"/>
<path d="M371.80 163.60L373.60 160.10L370.00 160.10Z" fill="#ffffff" stroke="#808080" stroke-width="0.7"/>
<circle cx="376.90" cy="156.00" r="1.6" fill="#ffffff" stroke="#808080" stroke-width="0.7"/>
<circle cx="383.40" cy="161.00" r="1.6" fill="#ffffff" stroke="#808080" stroke-width="0.7"/>
<circle cx="388.40" cy="158.00" r="1.6" fill="#ffffff" stroke="#808080" stroke-width="0.7"/>
<circle cx="393.50" cy="158.10" r="1.6" fill="#ffffff" stroke="#808080" stroke-width="0.7"/>
<circle cx="398.50" cy="158.00" r="1.6" fill="#ffffff" stroke="#808080" stroke-width="0.7"/>
<line x1="437.0" y1="129.9" x2="437.0" y2="190.6" stroke="#3a3a3a" stroke-width="1.1"/>
<line x1="437.0" y1="190.6" x2="504.6" y2="190.6" stroke="#3a3a3a" stroke-width="1.1"/>
<line x1="434.3" y1="129.90" x2="437.0" y2="129.90" stroke="#3a3a3a" stroke-width="0.9900000000000001"/>
<text class="Se" x="430.4" y="133.9" font-size="9.2">200</text>
<line x1="434.3" y1="145.07" x2="437.0" y2="145.07" stroke="#3a3a3a" stroke-width="0.9900000000000001"/>
<text class="Se" x="430.4" y="149.07" font-size="9.2">150</text>
<line x1="434.3" y1="160.25" x2="437.0" y2="160.25" stroke="#3a3a3a" stroke-width="0.9900000000000001"/>
<text class="Se" x="430.4" y="164.25" font-size="9.2">100</text>
<line x1="434.3" y1="175.43" x2="437.0" y2="175.43" stroke="#3a3a3a" stroke-width="0.9900000000000001"/>
<text class="Se" x="428.9" y="179.43" font-size="9.2">50</text>
<line x1="434.3" y1="190.60" x2="437.0" y2="190.60" stroke="#3a3a3a" stroke-width="0.9900000000000001"/>
<text class="Se" x="427.2" y="194.6" font-size="9.2">0</text>
<line x1="437.00" y1="190.6" x2="437.00" y2="192.4" stroke="#3a3a3a" stroke-width="0.9900000000000001"/>
<text class="Sm" x="438.5" y="206.0" font-size="9.2">0</text>
<line x1="450.52" y1="190.6" x2="450.52" y2="192.4" stroke="#3a3a3a" stroke-width="0.9900000000000001"/>
<text class="Sm" x="452.02" y="206.0" font-size="9.2">20</text>
<line x1="464.04" y1="190.6" x2="464.04" y2="192.4" stroke="#3a3a3a" stroke-width="0.9900000000000001"/>
<text class="Sm" x="465.54" y="206.0" font-size="9.2">40</text>
<line x1="477.56" y1="190.6" x2="477.56" y2="192.4" stroke="#3a3a3a" stroke-width="0.9900000000000001"/>
<text class="Sm" x="479.06" y="206.0" font-size="9.2">60</text>
<line x1="491.08" y1="190.6" x2="491.08" y2="192.4" stroke="#3a3a3a" stroke-width="0.9900000000000001"/>
<text class="Sm" x="492.58" y="206.0" font-size="9.2">80</text>
<line x1="504.60" y1="190.6" x2="504.60" y2="192.4" stroke="#3a3a3a" stroke-width="0.9900000000000001"/>
<text class="Sm" x="506.1" y="206.0" font-size="9.2">100</text>
<line x1="437" y1="160.5" x2="505" y2="160.5" stroke="#9a9a9a" stroke-width="0.6"/>
<path d="M437.30 160.50C438.38 157.90 442.28 145.85 443.80 144.90C445.32 143.95 445.40 152.63 446.40 154.80C447.40 156.97 448.22 159.35 449.80 157.90C451.38 156.45 454.05 147.00 455.90 146.10C457.75 145.20 459.32 149.97 460.90 152.50C462.48 155.03 463.90 163.82 465.40 161.30C466.90 158.78 468.83 138.70 469.90 137.40C470.97 136.10 470.97 149.65 471.80 153.50C472.63 157.35 473.62 159.15 474.90 160.50C476.18 161.85 477.63 164.37 479.50 161.60C481.37 158.83 483.92 143.45 486.10 143.90C488.28 144.35 491.00 161.80 492.60 164.30C494.20 166.80 493.77 160.57 495.70 158.90C497.63 157.23 502.78 155.07 504.20 154.30" fill="none" stroke="#959595" stroke-width="0.65"/>
<path d="M437.30 159.00L438.70 161.70L435.90 161.70Z" fill="#6e6e6e" stroke="#4a4a4a" stroke-width="0.7"/>
<path d="M443.80 143.40L445.20 146.10L442.40 146.10Z" fill="#6e6e6e" stroke="#4a4a4a" stroke-width="0.7"/>
<path d="M446.40 153.30L447.80 156.00L445.00 156.00Z" fill="#6e6e6e" stroke="#4a4a4a" stroke-width="0.7"/>
<path d="M449.80 156.40L451.20 159.10L448.40 159.10Z" fill="#6e6e6e" stroke="#4a4a4a" stroke-width="0.7"/>
<path d="M455.90 144.60L457.30 147.30L454.50 147.30Z" fill="#6e6e6e" stroke="#4a4a4a" stroke-width="0.7"/>
<path d="M460.90 151.00L462.30 153.70L459.50 153.70Z" fill="#6e6e6e" stroke="#4a4a4a" stroke-width="0.7"/>
<path d="M465.40 159.80L466.80 162.50L464.00 162.50Z" fill="#6e6e6e" stroke="#4a4a4a" stroke-width="0.7"/>
<path d="M469.90 135.90L471.30 138.60L468.50 138.60Z" fill="#6e6e6e" stroke="#4a4a4a" stroke-width="0.7"/>
<path d="M471.80 152.00L473.20 154.70L470.40 154.70Z" fill="#6e6e6e" stroke="#4a4a4a" stroke-width="0.7"/>
<path d="M474.90 159.00L476.30 161.70L473.50 161.70Z" fill="#6e6e6e" stroke="#4a4a4a" stroke-width="0.7"/>
<path d="M479.50 160.10L480.90 162.80L478.10 162.80Z" fill="#6e6e6e" stroke="#4a4a4a" stroke-width="0.7"/>
<path d="M486.10 142.40L487.50 145.10L484.70 145.10Z" fill="#6e6e6e" stroke="#4a4a4a" stroke-width="0.7"/>
<path d="M492.60 162.80L494.00 165.50L491.20 165.50Z" fill="#6e6e6e" stroke="#4a4a4a" stroke-width="0.7"/>
<path d="M495.70 157.40L497.10 160.10L494.30 160.10Z" fill="#6e6e6e" stroke="#4a4a4a" stroke-width="0.7"/>
<path d="M504.20 152.80L505.60 155.50L502.80 155.50Z" fill="#6e6e6e" stroke="#4a4a4a" stroke-width="0.7"/>
<path d="M437.30 160.50C437.93 160.63 440.02 163.20 441.10 161.30C442.18 159.40 442.92 148.40 443.80 149.10C444.68 149.80 445.52 162.90 446.40 165.50C447.28 168.10 447.52 166.17 449.10 164.70C450.68 163.23 453.93 158.35 455.90 156.70C457.87 155.05 459.32 153.40 460.90 154.80C462.48 156.20 463.88 166.23 465.40 165.10C466.92 163.97 468.87 148.97 470.00 148.00C471.13 147.03 471.38 156.52 472.20 159.30C473.02 162.08 473.68 163.73 474.90 164.70C476.12 165.67 477.63 165.68 479.50 165.10C481.37 164.52 483.92 160.75 486.10 161.20C488.28 161.65 491.07 166.77 492.60 167.80C494.13 168.83 493.37 168.88 495.30 167.40C497.23 165.92 502.72 160.32 504.20 158.90" fill="none" stroke="#959595" stroke-width="0.65"/>
<rect x="436.10" y="159.30" width="2.4" height="2.4" fill="#6e6e6e" stroke="#4a4a4a" stroke-width="0.7"/>
<rect x="439.90" y="160.10" width="2.4" height="2.4" fill="#6e6e6e" stroke="#4a4a4a" stroke-width="0.7"/>
<rect x="442.60" y="147.90" width="2.4" height="2.4" fill="#6e6e6e" stroke="#4a4a4a" stroke-width="0.7"/>
<rect x="445.20" y="164.30" width="2.4" height="2.4" fill="#6e6e6e" stroke="#4a4a4a" stroke-width="0.7"/>
<rect x="447.90" y="163.50" width="2.4" height="2.4" fill="#6e6e6e" stroke="#4a4a4a" stroke-width="0.7"/>
<rect x="454.70" y="155.50" width="2.4" height="2.4" fill="#6e6e6e" stroke="#4a4a4a" stroke-width="0.7"/>
<rect x="459.70" y="153.60" width="2.4" height="2.4" fill="#6e6e6e" stroke="#4a4a4a" stroke-width="0.7"/>
<rect x="464.20" y="163.90" width="2.4" height="2.4" fill="#6e6e6e" stroke="#4a4a4a" stroke-width="0.7"/>
<rect x="468.80" y="146.80" width="2.4" height="2.4" fill="#6e6e6e" stroke="#4a4a4a" stroke-width="0.7"/>
<rect x="471.00" y="158.10" width="2.4" height="2.4" fill="#6e6e6e" stroke="#4a4a4a" stroke-width="0.7"/>
<rect x="473.70" y="163.50" width="2.4" height="2.4" fill="#6e6e6e" stroke="#4a4a4a" stroke-width="0.7"/>
<rect x="478.30" y="163.90" width="2.4" height="2.4" fill="#6e6e6e" stroke="#4a4a4a" stroke-width="0.7"/>
<rect x="484.90" y="160.00" width="2.4" height="2.4" fill="#6e6e6e" stroke="#4a4a4a" stroke-width="0.7"/>
<rect x="491.40" y="166.60" width="2.4" height="2.4" fill="#6e6e6e" stroke="#4a4a4a" stroke-width="0.7"/>
<rect x="494.10" y="166.20" width="2.4" height="2.4" fill="#6e6e6e" stroke="#4a4a4a" stroke-width="0.7"/>
<rect x="503.00" y="157.70" width="2.4" height="2.4" fill="#6e6e6e" stroke="#4a4a4a" stroke-width="0.7"/>
<path d="M437.30 160.50C438.00 159.82 440.55 156.27 441.50 156.40C442.45 156.53 441.62 160.70 443.00 161.30C444.38 161.90 447.58 160.00 449.80 160.00C452.02 160.00 454.90 161.02 456.30 161.30C457.70 161.58 456.68 159.98 458.20 161.70C459.72 163.42 463.38 171.80 465.40 171.60C467.42 171.40 468.72 162.10 470.30 160.50C471.88 158.90 473.37 161.58 474.90 162.00C476.43 162.42 477.63 163.13 479.50 163.00C481.37 162.87 483.40 161.12 486.10 161.20C488.80 161.28 492.68 163.17 495.70 163.50C498.72 163.83 502.78 163.25 504.20 163.20" fill="none" stroke="#959595" stroke-width="0.65"/>
<circle cx="437.30" cy="160.50" r="1.2" fill="#6e6e6e" stroke="#4a4a4a" stroke-width="0.7"/>
<circle cx="441.50" cy="156.40" r="1.2" fill="#6e6e6e" stroke="#4a4a4a" stroke-width="0.7"/>
<circle cx="443.00" cy="161.30" r="1.2" fill="#6e6e6e" stroke="#4a4a4a" stroke-width="0.7"/>
<circle cx="449.80" cy="160.00" r="1.2" fill="#6e6e6e" stroke="#4a4a4a" stroke-width="0.7"/>
<circle cx="456.30" cy="161.30" r="1.2" fill="#6e6e6e" stroke="#4a4a4a" stroke-width="0.7"/>
<circle cx="458.20" cy="161.70" r="1.2" fill="#6e6e6e" stroke="#4a4a4a" stroke-width="0.7"/>
<circle cx="465.40" cy="171.60" r="1.2" fill="#6e6e6e" stroke="#4a4a4a" stroke-width="0.7"/>
<circle cx="470.30" cy="160.50" r="1.2" fill="#6e6e6e" stroke="#4a4a4a" stroke-width="0.7"/>
<circle cx="474.90" cy="162.00" r="1.2" fill="#6e6e6e" stroke="#4a4a4a" stroke-width="0.7"/>
<circle cx="479.50" cy="163.00" r="1.2" fill="#6e6e6e" stroke="#4a4a4a" stroke-width="0.7"/>
<circle cx="486.10" cy="161.20" r="1.2" fill="#6e6e6e" stroke="#4a4a4a" stroke-width="0.7"/>
<circle cx="495.70" cy="163.50" r="1.2" fill="#6e6e6e" stroke="#4a4a4a" stroke-width="0.7"/>
<circle cx="504.20" cy="163.20" r="1.2" fill="#6e6e6e" stroke="#4a4a4a" stroke-width="0.7"/>
<text class="Sm" x="368.9" y="224.4" font-size="9.4">Time (days)</text>
<text class="Sm" x="473.9" y="224.4" font-size="9.4">Time (days)</text>
<text class="Sm" x="291.7" y="66.7" transform="rotate(-90 291.7 66.7)" font-size="9.7" style="stroke-width:0.18px">Bcl-2 expression</text>
<text class="Sm" x="302.6" y="67.9" transform="rotate(-90 302.6 67.9)" font-size="9.7" style="stroke-width:0.18px">CD4 (%initial)</text>
<text class="Sm" x="291.7" y="166.3" transform="rotate(-90 291.7 166.3)" font-size="9.7" style="stroke-width:0.18px">Bcl-2 expression</text>
<text class="Sm" x="302.6" y="166.0" transform="rotate(-90 302.6 166.0)" font-size="9.7" style="stroke-width:0.18px">CD8 (%initial)</text>
<line x1="334.3" y1="266.4" x2="334.3" y2="326.1" stroke="#9a9a9a" stroke-width="1.0"/>
<line x1="334.3" y1="326.1" x2="401.6" y2="326.1" stroke="#9a9a9a" stroke-width="1.0"/>
<line x1="331.6" y1="266.40" x2="334.3" y2="266.40" stroke="#9a9a9a" stroke-width="0.9"/>
<text class="Se" x="327.0" y="271.0" font-size="9.2">200</text>
<line x1="331.6" y1="281.32" x2="334.3" y2="281.32" stroke="#9a9a9a" stroke-width="0.9"/>
<text class="Se" x="327.0" y="285.93" font-size="9.2">150</text>
<line x1="331.6" y1="296.25" x2="334.3" y2="296.25" stroke="#9a9a9a" stroke-width="0.9"/>
<text class="Se" x="327.0" y="300.85" font-size="9.2">100</text>
<line x1="331.6" y1="311.18" x2="334.3" y2="311.18" stroke="#9a9a9a" stroke-width="0.9"/>
<text class="Se" x="325.5" y="315.78" font-size="9.2">50</text>
<line x1="331.6" y1="326.10" x2="334.3" y2="326.10" stroke="#9a9a9a" stroke-width="0.9"/>
<text class="Se" x="323.8" y="330.7" font-size="9.2">0</text>
<line x1="334.30" y1="326.1" x2="334.30" y2="327.90000000000003" stroke="#9a9a9a" stroke-width="0.9"/>
<text class="Sm" x="335.4" y="341.6" font-size="9.2">0</text>
<line x1="347.76" y1="326.1" x2="347.76" y2="327.90000000000003" stroke="#9a9a9a" stroke-width="0.9"/>
<text class="Sm" x="348.86" y="341.6" font-size="9.2">20</text>
<line x1="361.22" y1="326.1" x2="361.22" y2="327.90000000000003" stroke="#9a9a9a" stroke-width="0.9"/>
<text class="Sm" x="362.32" y="341.6" font-size="9.2">40</text>
<line x1="374.68" y1="326.1" x2="374.68" y2="327.90000000000003" stroke="#9a9a9a" stroke-width="0.9"/>
<text class="Sm" x="375.78" y="341.6" font-size="9.2">60</text>
<line x1="388.14" y1="326.1" x2="388.14" y2="327.90000000000003" stroke="#9a9a9a" stroke-width="0.9"/>
<text class="Sm" x="389.24" y="341.6" font-size="9.2">80</text>
<line x1="401.60" y1="326.1" x2="401.60" y2="327.90000000000003" stroke="#9a9a9a" stroke-width="0.9"/>
<text class="Sm" x="402.7" y="341.6" font-size="9.2">100</text>
<line x1="334.3" y1="296.3" x2="401.6" y2="296.3" stroke="#111" stroke-width="1.0" stroke-dasharray="2.2 1.4"/>
<polyline points="333.80,296.20 338.90,297.70 343.50,293.50 348.50,292.30 353.00,297.20 358.50,289.50 362.30,294.60 366.90,294.20 371.50,296.60 376.90,292.30 383.00,287.00 387.70,287.40 392.30,291.50 397.70,295.40" fill="none" stroke="#999999" stroke-width="0.65"/>
<rect x="332.20" y="294.60" width="3.2" height="3.2" fill="#ffffff" stroke="#808080" stroke-width="0.7"/>
<rect x="337.30" y="296.10" width="3.2" height="3.2" fill="#ffffff" stroke="#808080" stroke-width="0.7"/>
<rect x="341.90" y="291.90" width="3.2" height="3.2" fill="#ffffff" stroke="#808080" stroke-width="0.7"/>
<rect x="346.90" y="290.70" width="3.2" height="3.2" fill="#ffffff" stroke="#808080" stroke-width="0.7"/>
<rect x="351.40" y="295.60" width="3.2" height="3.2" fill="#ffffff" stroke="#808080" stroke-width="0.7"/>
<rect x="356.90" y="287.90" width="3.2" height="3.2" fill="#ffffff" stroke="#808080" stroke-width="0.7"/>
<rect x="360.70" y="293.00" width="3.2" height="3.2" fill="#ffffff" stroke="#808080" stroke-width="0.7"/>
<rect x="365.30" y="292.60" width="3.2" height="3.2" fill="#ffffff" stroke="#808080" stroke-width="0.7"/>
<rect x="369.90" y="295.00" width="3.2" height="3.2" fill="#ffffff" stroke="#808080" stroke-width="0.7"/>
<rect x="375.30" y="290.70" width="3.2" height="3.2" fill="#ffffff" stroke="#808080" stroke-width="0.7"/>
<rect x="381.40" y="285.40" width="3.2" height="3.2" fill="#ffffff" stroke="#808080" stroke-width="0.7"/>
<rect x="386.10" y="285.80" width="3.2" height="3.2" fill="#ffffff" stroke="#808080" stroke-width="0.7"/>
<rect x="390.70" y="289.90" width="3.2" height="3.2" fill="#ffffff" stroke="#808080" stroke-width="0.7"/>
<rect x="396.10" y="293.80" width="3.2" height="3.2" fill="#ffffff" stroke="#808080" stroke-width="0.7"/>
<polyline points="333.80,296.20 338.90,297.50 343.50,296.00 348.50,301.50 353.00,296.50 358.50,296.20 362.30,296.00 366.90,296.50 371.50,300.30 376.90,296.00 383.00,294.20 387.70,296.20 392.30,296.00 397.70,296.20" fill="none" stroke="#999999" stroke-width="0.65"/>
<circle cx="333.80" cy="296.20" r="1.6" fill="#ffffff" stroke="#808080" stroke-width="0.7"/>
<circle cx="338.90" cy="297.50" r="1.6" fill="#ffffff" stroke="#808080" stroke-width="0.7"/>
<circle cx="343.50" cy="296.00" r="1.6" fill="#ffffff" stroke="#808080" stroke-width="0.7"/>
<circle cx="348.50" cy="301.50" r="1.6" fill="#ffffff" stroke="#808080" stroke-width="0.7"/>
<circle cx="353.00" cy="296.50" r="1.6" fill="#ffffff" stroke="#808080" stroke-width="0.7"/>
<circle cx="358.50" cy="296.20" r="1.6" fill="#ffffff" stroke="#808080" stroke-width="0.7"/>
<circle cx="362.30" cy="296.00" r="1.6" fill="#ffffff" stroke="#808080" stroke-width="0.7"/>
<circle cx="366.90" cy="296.50" r="1.6" fill="#ffffff" stroke="#808080" stroke-width="0.7"/>
<circle cx="371.50" cy="300.30" r="1.6" fill="#ffffff" stroke="#808080" stroke-width="0.7"/>
<circle cx="376.90" cy="296.00" r="1.6" fill="#ffffff" stroke="#808080" stroke-width="0.7"/>
<circle cx="383.00" cy="294.20" r="1.6" fill="#ffffff" stroke="#808080" stroke-width="0.7"/>
<circle cx="387.70" cy="296.20" r="1.6" fill="#ffffff" stroke="#808080" stroke-width="0.7"/>
<circle cx="392.30" cy="296.00" r="1.6" fill="#ffffff" stroke="#808080" stroke-width="0.7"/>
<circle cx="397.70" cy="296.20" r="1.6" fill="#ffffff" stroke="#808080" stroke-width="0.7"/>
<line x1="437.7" y1="265.6" x2="437.7" y2="326.0" stroke="#9a9a9a" stroke-width="1.0"/>
<line x1="437.7" y1="326.0" x2="505.3" y2="326.0" stroke="#9a9a9a" stroke-width="1.0"/>
<line x1="435.0" y1="265.60" x2="437.7" y2="265.60" stroke="#9a9a9a" stroke-width="0.9"/>
<text class="Se" x="429.3" y="270.4" font-size="9.2">200</text>
<line x1="435.0" y1="280.70" x2="437.7" y2="280.70" stroke="#9a9a9a" stroke-width="0.9"/>
<text class="Se" x="429.3" y="285.5" font-size="9.2">150</text>
<line x1="435.0" y1="295.80" x2="437.7" y2="295.80" stroke="#9a9a9a" stroke-width="0.9"/>
<text class="Se" x="429.3" y="300.6" font-size="9.2">100</text>
<line x1="435.0" y1="310.90" x2="437.7" y2="310.90" stroke="#9a9a9a" stroke-width="0.9"/>
<text class="Se" x="427.8" y="315.7" font-size="9.2">50</text>
<line x1="435.0" y1="326.00" x2="437.7" y2="326.00" stroke="#9a9a9a" stroke-width="0.9"/>
<text class="Se" x="426.1" y="330.8" font-size="9.2">0</text>
<line x1="437.70" y1="326.0" x2="437.70" y2="327.8" stroke="#9a9a9a" stroke-width="0.9"/>
<text class="Sm" x="438.5" y="341.7" font-size="9.2">0</text>
<line x1="451.22" y1="326.0" x2="451.22" y2="327.8" stroke="#9a9a9a" stroke-width="0.9"/>
<text class="Sm" x="452.02" y="341.7" font-size="9.2">20</text>
<line x1="464.74" y1="326.0" x2="464.74" y2="327.8" stroke="#9a9a9a" stroke-width="0.9"/>
<text class="Sm" x="465.54" y="341.7" font-size="9.2">40</text>
<line x1="478.26" y1="326.0" x2="478.26" y2="327.8" stroke="#9a9a9a" stroke-width="0.9"/>
<text class="Sm" x="479.06" y="341.7" font-size="9.2">60</text>
<line x1="491.78" y1="326.0" x2="491.78" y2="327.8" stroke="#9a9a9a" stroke-width="0.9"/>
<text class="Sm" x="492.58" y="341.7" font-size="9.2">80</text>
<line x1="505.30" y1="326.0" x2="505.30" y2="327.8" stroke="#9a9a9a" stroke-width="0.9"/>
<text class="Sm" x="506.1" y="341.7" font-size="9.2">100</text>
<line x1="437.7" y1="294.9" x2="505.3" y2="294.9" stroke="#333" stroke-width="0.7" stroke-dasharray="1.6 1.4"/>
<path d="M437.70 295.10C438.52 293.13 441.02 283.75 442.60 283.30C444.18 282.85 445.87 290.88 447.20 292.40C448.53 293.92 449.15 294.30 450.60 292.40C452.05 290.50 454.18 281.77 455.90 281.00C457.62 280.23 459.32 283.75 460.90 287.80C462.48 291.85 463.88 307.97 465.40 305.30C466.92 302.63 468.42 272.88 470.00 271.80C471.58 270.72 473.32 294.55 474.90 298.80C476.48 303.05 477.63 300.68 479.50 297.30C481.37 293.92 484.17 279.13 486.10 278.50C488.03 277.87 489.37 290.50 491.10 293.50C492.83 296.50 494.32 297.33 496.50 296.50C498.68 295.67 502.92 289.83 504.20 288.50" fill="none" stroke="#959595" stroke-width="0.65"/>
<circle cx="437.70" cy="295.10" r="1.2" fill="#6e6e6e" stroke="#4a4a4a" stroke-width="0.7"/>
<circle cx="442.60" cy="283.30" r="1.2" fill="#6e6e6e" stroke="#4a4a4a" stroke-width="0.7"/>
<circle cx="447.20" cy="292.40" r="1.2" fill="#6e6e6e" stroke="#4a4a4a" stroke-width="0.7"/>
<circle cx="450.60" cy="292.40" r="1.2" fill="#6e6e6e" stroke="#4a4a4a" stroke-width="0.7"/>
<circle cx="455.90" cy="281.00" r="1.2" fill="#6e6e6e" stroke="#4a4a4a" stroke-width="0.7"/>
<circle cx="460.90" cy="287.80" r="1.2" fill="#6e6e6e" stroke="#4a4a4a" stroke-width="0.7"/>
<circle cx="465.40" cy="305.30" r="1.2" fill="#6e6e6e" stroke="#4a4a4a" stroke-width="0.7"/>
<circle cx="470.00" cy="271.80" r="1.2" fill="#6e6e6e" stroke="#4a4a4a" stroke-width="0.7"/>
<circle cx="474.90" cy="298.80" r="1.2" fill="#6e6e6e" stroke="#4a4a4a" stroke-width="0.7"/>
<circle cx="479.50" cy="297.30" r="1.2" fill="#6e6e6e" stroke="#4a4a4a" stroke-width="0.7"/>
<circle cx="486.10" cy="278.50" r="1.2" fill="#6e6e6e" stroke="#4a4a4a" stroke-width="0.7"/>
<circle cx="491.10" cy="293.50" r="1.2" fill="#6e6e6e" stroke="#4a4a4a" stroke-width="0.7"/>
<circle cx="496.50" cy="296.50" r="1.2" fill="#6e6e6e" stroke="#4a4a4a" stroke-width="0.7"/>
<circle cx="504.20" cy="288.50" r="1.2" fill="#6e6e6e" stroke="#4a4a4a" stroke-width="0.7"/>
<path d="M437.70 295.10C438.45 294.40 440.62 291.85 442.20 290.90C443.78 289.95 445.87 287.75 447.20 289.40C448.53 291.05 448.43 301.82 450.20 300.80C451.97 299.78 456.02 285.08 457.80 283.30C459.58 281.52 459.63 287.45 460.90 290.10C462.17 292.75 463.88 301.73 465.40 299.20C466.92 296.67 468.93 277.97 470.00 274.90C471.07 271.83 470.92 277.45 471.80 280.80C472.68 284.15 474.02 291.60 475.30 295.00C476.58 298.40 477.70 301.83 479.50 301.20C481.30 300.57 483.78 291.08 486.10 291.20C488.42 291.32 491.80 300.12 493.40 301.90C495.00 303.68 493.90 302.92 495.70 301.90C497.50 300.88 502.78 296.82 504.20 295.80" fill="none" stroke="#959595" stroke-width="0.65"/>
<path d="M437.70 293.60L439.10 296.30L436.30 296.30Z" fill="#6e6e6e" stroke="#4a4a4a" stroke-width="0.7"/>
<path d="M442.20 289.40L443.60 292.10L440.80 292.10Z" fill="#6e6e6e" stroke="#4a4a4a" stroke-width="0.7"/>
<path d="M447.20 287.90L448.60 290.60L445.80 290.60Z" fill="#6e6e6e" stroke="#4a4a4a" stroke-width="0.7"/>
<path d="M450.20 299.30L451.60 302.00L448.80 302.00Z" fill="#6e6e6e" stroke="#4a4a4a" stroke-width="0.7"/>
<path d="M457.80 281.80L459.20 284.50L456.40 284.50Z" fill="#6e6e6e" stroke="#4a4a4a" stroke-width="0.7"/>
<path d="M460.90 288.60L462.30 291.30L459.50 291.30Z" fill="#6e6e6e" stroke="#4a4a4a" stroke-width="0.7"/>
<path d="M465.40 297.70L466.80 300.40L464.00 300.40Z" fill="#6e6e6e" stroke="#4a4a4a" stroke-width="0.7"/>
<path d="M470.00 273.40L471.40 276.10L468.60 276.10Z" fill="#6e6e6e" stroke="#4a4a4a" stroke-width="0.7"/>
<path d="M471.80 279.30L473.20 282.00L470.40 282.00Z" fill="#6e6e6e" stroke="#4a4a4a" stroke-width="0.7"/>
<path d="M475.30 293.50L476.70 296.20L473.90 296.20Z" fill="#6e6e6e" stroke="#4a4a4a" stroke-width="0.7"/>
<path d="M479.50 299.70L480.90 302.40L478.10 302.40Z" fill="#6e6e6e" stroke="#4a4a4a" stroke-width="0.7"/>
<path d="M486.10 289.70L487.50 292.40L484.70 292.40Z" fill="#6e6e6e" stroke="#4a4a4a" stroke-width="0.7"/>
<path d="M493.40 300.40L494.80 303.10L492.00 303.10Z" fill="#6e6e6e" stroke="#4a4a4a" stroke-width="0.7"/>
<path d="M495.70 300.40L497.10 303.10L494.30 303.10Z" fill="#6e6e6e" stroke="#4a4a4a" stroke-width="0.7"/>
<path d="M504.20 294.30L505.60 297.00L502.80 297.00Z" fill="#6e6e6e" stroke="#4a4a4a" stroke-width="0.7"/>
<path d="M437.70 295.10C438.83 293.32 442.92 284.35 444.50 284.40C446.08 284.45 446.18 293.63 447.20 295.40C448.22 297.17 449.33 295.05 450.60 295.00C451.87 294.95 453.47 295.40 454.80 295.10C456.13 294.80 456.83 293.20 458.60 293.20C460.37 293.20 463.50 296.00 465.40 295.10C467.30 294.20 468.80 288.90 470.00 287.80C471.20 286.70 471.78 288.33 472.60 288.50C473.42 288.67 473.75 287.33 474.90 288.80C476.05 290.27 477.63 296.02 479.50 297.30C481.37 298.58 484.17 296.63 486.10 296.50C488.03 296.37 489.37 296.50 491.10 296.50C492.83 296.50 494.32 296.23 496.50 296.50C498.68 296.77 502.92 297.83 504.20 298.10" fill="none" stroke="#959595" stroke-width="0.65"/>
<rect x="436.50" y="293.90" width="2.4" height="2.4" fill="#6e6e6e" stroke="#4a4a4a" stroke-width="0.7"/>
<rect x="443.30" y="283.20" width="2.4" height="2.4" fill="#6e6e6e" stroke="#4a4a4a" stroke-width="0.7"/>
<rect x="446.00" y="294.20" width="2.4" height="2.4" fill="#6e6e6e" stroke="#4a4a4a" stroke-width="0.7"/>
<rect x="449.40" y="293.80" width="2.4" height="2.4" fill="#6e6e6e" stroke="#4a4a4a" stroke-width="0.7"/>
<rect x="453.60" y="293.90" width="2.4" height="2.4" fill="#6e6e6e" stroke="#4a4a4a" stroke-width="0.7"/>
<rect x="457.40" y="292.00" width="2.4" height="2.4" fill="#6e6e6e" stroke="#4a4a4a" stroke-width="0.7"/>
<rect x="464.20" y="293.90" width="2.4" height="2.4" fill="#6e6e6e" stroke="#4a4a4a" stroke-width="0.7"/>
<rect x="468.80" y="286.60" width="2.4" height="2.4" fill="#6e6e6e" stroke="#4a4a4a" stroke-width="0.7"/>
<rect x="471.40" y="287.30" width="2.4" height="2.4" fill="#6e6e6e" stroke="#4a4a4a" stroke-width="0.7"/>
<rect x="473.70" y="287.60" width="2.4" height="2.4" fill="#6e6e6e" stroke="#4a4a4a" stroke-width="0.7"/>
<rect x="478.30" y="296.10" width="2.4" height="2.4" fill="#6e6e6e" stroke="#4a4a4a" stroke-width="0.7"/>
<rect x="484.90" y="295.30" width="2.4" height="2.4" fill="#6e6e6e" stroke="#4a4a4a" stroke-width="0.7"/>
<rect x="489.90" y="295.30" width="2.4" height="2.4" fill="#6e6e6e" stroke="#4a4a4a" stroke-width="0.7"/>
<rect x="495.30" y="295.30" width="2.4" height="2.4" fill="#6e6e6e" stroke="#4a4a4a" stroke-width="0.7"/>
<rect x="503.00" y="296.90" width="2.4" height="2.4" fill="#6e6e6e" stroke="#4a4a4a" stroke-width="0.7"/>
<line x1="333.7" y1="356.9" x2="333.7" y2="416.8" stroke="#9a9a9a" stroke-width="1.0"/>
<line x1="333.7" y1="416.8" x2="401.2" y2="416.8" stroke="#9a9a9a" stroke-width="1.0"/>
<line x1="331.0" y1="356.90" x2="333.7" y2="356.90" stroke="#9a9a9a" stroke-width="0.9"/>
<text class="Se" x="327.1" y="361.5" font-size="9.2">200</text>
<line x1="331.0" y1="371.88" x2="333.7" y2="371.88" stroke="#9a9a9a" stroke-width="0.9"/>
<text class="Se" x="327.1" y="376.48" font-size="9.2">150</text>
<line x1="331.0" y1="386.85" x2="333.7" y2="386.85" stroke="#9a9a9a" stroke-width="0.9"/>
<text class="Se" x="327.1" y="391.45" font-size="9.2">100</text>
<line x1="331.0" y1="401.82" x2="333.7" y2="401.82" stroke="#9a9a9a" stroke-width="0.9"/>
<text class="Se" x="325.6" y="406.43" font-size="9.2">50</text>
<line x1="331.0" y1="416.80" x2="333.7" y2="416.80" stroke="#9a9a9a" stroke-width="0.9"/>
<text class="Se" x="323.9" y="421.4" font-size="9.2">0</text>
<line x1="333.70" y1="416.8" x2="333.70" y2="418.6" stroke="#9a9a9a" stroke-width="0.9"/>
<text class="Sm" x="334.6" y="432.3" font-size="9.2">0</text>
<line x1="347.20" y1="416.8" x2="347.20" y2="418.6" stroke="#9a9a9a" stroke-width="0.9"/>
<text class="Sm" x="348.1" y="432.3" font-size="9.2">20</text>
<line x1="360.70" y1="416.8" x2="360.70" y2="418.6" stroke="#9a9a9a" stroke-width="0.9"/>
<text class="Sm" x="361.6" y="432.3" font-size="9.2">40</text>
<line x1="374.20" y1="416.8" x2="374.20" y2="418.6" stroke="#9a9a9a" stroke-width="0.9"/>
<text class="Sm" x="375.1" y="432.3" font-size="9.2">60</text>
<line x1="387.70" y1="416.8" x2="387.70" y2="418.6" stroke="#9a9a9a" stroke-width="0.9"/>
<text class="Sm" x="388.6" y="432.3" font-size="9.2">80</text>
<line x1="401.20" y1="416.8" x2="401.20" y2="418.6" stroke="#9a9a9a" stroke-width="0.9"/>
<text class="Sm" x="402.1" y="432.3" font-size="9.2">100</text>
<line x1="333.7" y1="387.2" x2="401.2" y2="387.2" stroke="#000" stroke-width="1.0" stroke-dasharray="2.2 1.4"/>
<polyline points="333.60,387.10 338.70,387.70 343.30,387.70 348.00,381.30 352.80,386.00 358.10,378.80 362.50,383.10 367.20,384.50 371.80,388.10 376.90,383.10 383.40,378.00 388.40,376.60 392.70,383.40 397.10,383.40" fill="none" stroke="#999999" stroke-width="0.65"/>
<rect x="332.00" y="385.50" width="3.2" height="3.2" fill="#ffffff" stroke="#808080" stroke-width="0.7"/>
<rect x="337.10" y="386.10" width="3.2" height="3.2" fill="#ffffff" stroke="#808080" stroke-width="0.7"/>
<rect x="341.70" y="386.10" width="3.2" height="3.2" fill="#ffffff" stroke="#808080" stroke-width="0.7"/>
<rect x="346.40" y="379.70" width="3.2" height="3.2" fill="#ffffff" stroke="#808080" stroke-width="0.7"/>
<rect x="351.20" y="384.40" width="3.2" height="3.2" fill="#ffffff" stroke="#808080" stroke-width="0.7"/>
<rect x="356.50" y="377.20" width="3.2" height="3.2" fill="#ffffff" stroke="#808080" stroke-width="0.7"/>
<rect x="360.90" y="381.50" width="3.2" height="3.2" fill="#ffffff" stroke="#808080" stroke-width="0.7"/>
<rect x="365.60" y="382.90" width="3.2" height="3.2" fill="#ffffff" stroke="#808080" stroke-width="0.7"/>
<rect x="370.20" y="386.50" width="3.2" height="3.2" fill="#ffffff" stroke="#808080" stroke-width="0.7"/>
<rect x="375.30" y="381.50" width="3.2" height="3.2" fill="#ffffff" stroke="#808080" stroke-width="0.7"/>
<rect x="381.80" y="376.40" width="3.2" height="3.2" fill="#ffffff" stroke="#808080" stroke-width="0.7"/>
<rect x="386.80" y="375.00" width="3.2" height="3.2" fill="#ffffff" stroke="#808080" stroke-width="0.7"/>
<rect x="391.10" y="381.80" width="3.2" height="3.2" fill="#ffffff" stroke="#808080" stroke-width="0.7"/>
<rect x="395.50" y="381.80" width="3.2" height="3.2" fill="#ffffff" stroke="#808080" stroke-width="0.7"/>
<polyline points="333.60,387.10 338.70,387.70 343.30,387.70 348.00,390.60 352.80,382.40 358.10,383.80 362.50,385.00 367.20,386.00 371.80,389.50 376.90,385.00 383.40,384.50 388.40,383.10 392.70,384.50 397.10,385.00" fill="none" stroke="#999999" stroke-width="0.65"/>
<circle cx="333.60" cy="387.10" r="1.6" fill="#ffffff" stroke="#808080" stroke-width="0.7"/>
<circle cx="338.70" cy="387.70" r="1.6" fill="#ffffff" stroke="#808080" stroke-width="0.7"/>
<circle cx="343.30" cy="387.70" r="1.6" fill="#ffffff" stroke="#808080" stroke-width="0.7"/>
<circle cx="348.00" cy="390.60" r="1.6" fill="#ffffff" stroke="#808080" stroke-width="0.7"/>
<circle cx="352.80" cy="382.40" r="1.6" fill="#ffffff" stroke="#808080" stroke-width="0.7"/>
<circle cx="358.10" cy="383.80" r="1.6" fill="#ffffff" stroke="#808080" stroke-width="0.7"/>
<circle cx="362.50" cy="385.00" r="1.6" fill="#ffffff" stroke="#808080" stroke-width="0.7"/>
<circle cx="367.20" cy="386.00" r="1.6" fill="#ffffff" stroke="#808080" stroke-width="0.7"/>
<circle cx="371.80" cy="389.50" r="1.6" fill="#ffffff" stroke="#808080" stroke-width="0.7"/>
<circle cx="376.90" cy="385.00" r="1.6" fill="#ffffff" stroke="#808080" stroke-width="0.7"/>
<circle cx="383.40" cy="384.50" r="1.6" fill="#ffffff" stroke="#808080" stroke-width="0.7"/>
<circle cx="388.40" cy="383.10" r="1.6" fill="#ffffff" stroke="#808080" stroke-width="0.7"/>
<circle cx="392.70" cy="384.50" r="1.6" fill="#ffffff" stroke="#808080" stroke-width="0.7"/>
<circle cx="397.10" cy="385.00" r="1.6" fill="#ffffff" stroke="#808080" stroke-width="0.7"/>
<line x1="436.2" y1="354.4" x2="436.2" y2="414.6" stroke="#3a3a3a" stroke-width="1.1"/>
<line x1="436.2" y1="414.6" x2="504.5" y2="414.6" stroke="#3a3a3a" stroke-width="1.1"/>
<line x1="433.5" y1="354.40" x2="436.2" y2="354.40" stroke="#3a3a3a" stroke-width="0.9900000000000001"/>
<text class="Se" x="429.5" y="361.2" font-size="9.2">200</text>
<line x1="433.5" y1="369.45" x2="436.2" y2="369.45" stroke="#3a3a3a" stroke-width="0.9900000000000001"/>
<text class="Se" x="429.5" y="376.25" font-size="9.2">150</text>
<line x1="433.5" y1="384.50" x2="436.2" y2="384.50" stroke="#3a3a3a" stroke-width="0.9900000000000001"/>
<text class="Se" x="429.5" y="391.3" font-size="9.2">100</text>
<line x1="433.5" y1="399.55" x2="436.2" y2="399.55" stroke="#3a3a3a" stroke-width="0.9900000000000001"/>
<text class="Se" x="428.0" y="406.35" font-size="9.2">50</text>
<line x1="433.5" y1="414.60" x2="436.2" y2="414.60" stroke="#3a3a3a" stroke-width="0.9900000000000001"/>
<text class="Se" x="426.3" y="421.4" font-size="9.2">0</text>
<line x1="436.20" y1="414.6" x2="436.20" y2="416.40000000000003" stroke="#3a3a3a" stroke-width="0.9900000000000001"/>
<text class="Sm" x="437.2" y="431.0" font-size="9.2">0</text>
<line x1="449.86" y1="414.6" x2="449.86" y2="416.40000000000003" stroke="#3a3a3a" stroke-width="0.9900000000000001"/>
<text class="Sm" x="450.86" y="431.0" font-size="9.2">20</text>
<line x1="463.52" y1="414.6" x2="463.52" y2="416.40000000000003" stroke="#3a3a3a" stroke-width="0.9900000000000001"/>
<text class="Sm" x="464.52" y="431.0" font-size="9.2">40</text>
<line x1="477.18" y1="414.6" x2="477.18" y2="416.40000000000003" stroke="#3a3a3a" stroke-width="0.9900000000000001"/>
<text class="Sm" x="478.18" y="431.0" font-size="9.2">60</text>
<line x1="490.84" y1="414.6" x2="490.84" y2="416.40000000000003" stroke="#3a3a3a" stroke-width="0.9900000000000001"/>
<text class="Sm" x="491.84" y="431.0" font-size="9.2">80</text>
<line x1="504.50" y1="414.6" x2="504.50" y2="416.40000000000003" stroke="#3a3a3a" stroke-width="0.9900000000000001"/>
<text class="Sm" x="505.5" y="431.0" font-size="9.2">100</text>
<line x1="436.2" y1="385.1" x2="505" y2="385.1" stroke="#333" stroke-width="0.7" stroke-dasharray="1.6 1.4"/>
<path d="M436.10 385.10C437.18 381.42 441.00 363.83 442.60 363.00C444.20 362.17 444.68 377.75 445.70 380.10C446.72 382.45 447.18 378.87 448.70 377.10C450.22 375.33 453.40 370.13 454.80 369.50C456.20 368.87 456.33 373.12 457.10 373.30C457.87 373.48 458.20 369.22 459.40 370.60C460.60 371.98 462.67 383.00 464.30 381.60C465.93 380.20 467.55 362.67 469.20 362.20C470.85 361.73 472.60 375.52 474.20 378.80C475.80 382.08 476.95 383.57 478.80 381.90C480.65 380.23 483.25 368.60 485.30 368.80C487.35 369.00 489.50 381.10 491.10 383.10C492.70 385.10 492.78 381.45 494.90 380.80C497.02 380.15 502.32 379.47 503.80 379.20" fill="none" stroke="#959595" stroke-width="0.65"/>
<rect x="434.90" y="383.90" width="2.4" height="2.4" fill="#6e6e6e" stroke="#4a4a4a" stroke-width="0.7"/>
<rect x="441.40" y="361.80" width="2.4" height="2.4" fill="#6e6e6e" stroke="#4a4a4a" stroke-width="0.7"/>
<rect x="444.50" y="378.90" width="2.4" height="2.4" fill="#6e6e6e" stroke="#4a4a4a" stroke-width="0.7"/>
<rect x="447.50" y="375.90" width="2.4" height="2.4" fill="#6e6e6e" stroke="#4a4a4a" stroke-width="0.7"/>
<rect x="453.60" y="368.30" width="2.4" height="2.4" fill="#6e6e6e" stroke="#4a4a4a" stroke-width="0.7"/>
<rect x="455.90" y="372.10" width="2.4" height="2.4" fill="#6e6e6e" stroke="#4a4a4a" stroke-width="0.7"/>
<rect x="458.20" y="369.40" width="2.4" height="2.4" fill="#6e6e6e" stroke="#4a4a4a" stroke-width="0.7"/>
<rect x="463.10" y="380.40" width="2.4" height="2.4" fill="#6e6e6e" stroke="#4a4a4a" stroke-width="0.7"/>
<rect x="468.00" y="361.00" width="2.4" height="2.4" fill="#6e6e6e" stroke="#4a4a4a" stroke-width="0.7"/>
<rect x="473.00" y="377.60" width="2.4" height="2.4" fill="#6e6e6e" stroke="#4a4a4a" stroke-width="0.7"/>
<rect x="477.60" y="380.70" width="2.4" height="2.4" fill="#6e6e6e" stroke="#4a4a4a" stroke-width="0.7"/>
<rect x="484.10" y="367.60" width="2.4" height="2.4" fill="#6e6e6e" stroke="#4a4a4a" stroke-width="0.7"/>
<rect x="489.90" y="381.90" width="2.4" height="2.4" fill="#6e6e6e" stroke="#4a4a4a" stroke-width="0.7"/>
<rect x="493.70" y="379.60" width="2.4" height="2.4" fill="#6e6e6e" stroke="#4a4a4a" stroke-width="0.7"/>
<rect x="502.60" y="378.00" width="2.4" height="2.4" fill="#6e6e6e" stroke="#4a4a4a" stroke-width="0.7"/>
<path d="M436.10 385.10C436.87 384.40 439.62 382.87 440.70 380.90C441.78 378.93 441.83 371.72 442.60 373.30C443.37 374.88 444.28 388.75 445.30 390.40C446.32 392.05 447.12 384.72 448.70 383.20C450.28 381.68 453.02 382.25 454.80 381.30C456.58 380.35 457.82 375.10 459.40 377.50C460.98 379.90 462.67 397.55 464.30 395.70C465.93 393.85 468.13 371.00 469.20 366.40C470.27 361.80 469.93 364.37 470.70 368.10C471.47 371.83 472.45 385.60 473.80 388.80C475.15 392.00 476.88 389.53 478.80 387.30C480.72 385.07 483.13 374.57 485.30 375.40C487.47 376.23 490.20 389.55 491.80 392.30C493.40 395.05 492.90 393.05 494.90 391.90C496.90 390.75 502.32 386.48 503.80 385.40" fill="none" stroke="#959595" stroke-width="0.65"/>
<path d="M436.10 383.60L437.50 386.30L434.70 386.30Z" fill="#6e6e6e" stroke="#4a4a4a" stroke-width="0.7"/>
<path d="M440.70 379.40L442.10 382.10L439.30 382.10Z" fill="#6e6e6e" stroke="#4a4a4a" stroke-width="0.7"/>
<path d="M442.60 371.80L444.00 374.50L441.20 374.50Z" fill="#6e6e6e" stroke="#4a4a4a" stroke-width="0.7"/>
<path d="M445.30 388.90L446.70 391.60L443.90 391.60Z" fill="#6e6e6e" stroke="#4a4a4a" stroke-width="0.7"/>
<path d="M448.70 381.70L450.10 384.40L447.30 384.40Z" fill="#6e6e6e" stroke="#4a4a4a" stroke-width="0.7"/>
<path d="M454.80 379.80L456.20 382.50L453.40 382.50Z" fill="#6e6e6e" stroke="#4a4a4a" stroke-width="0.7"/>
<path d="M459.40 376.00L460.80 378.70L458.00 378.70Z" fill="#6e6e6e" stroke="#4a4a4a" stroke-width="0.7"/>
<path d="M464.30 394.20L465.70 396.90L462.90 396.90Z" fill="#6e6e6e" stroke="#4a4a4a" stroke-width="0.7"/>
<path d="M469.20 364.90L470.60 367.60L467.80 367.60Z" fill="#6e6e6e" stroke="#4a4a4a" stroke-width="0.7"/>
<path d="M470.70 366.60L472.10 369.30L469.30 369.30Z" fill="#6e6e6e" stroke="#4a4a4a" stroke-width="0.7"/>
<path d="M473.80 387.30L475.20 390.00L472.40 390.00Z" fill="#6e6e6e" stroke="#4a4a4a" stroke-width="0.7"/>
<path d="M478.80 385.80L480.20 388.50L477.40 388.50Z" fill="#6e6e6e" stroke="#4a4a4a" stroke-width="0.7"/>
<path d="M485.30 373.90L486.70 376.60L483.90 376.60Z" fill="#6e6e6e" stroke="#4a4a4a" stroke-width="0.7"/>
<path d="M491.80 390.80L493.20 393.50L490.40 393.50Z" fill="#6e6e6e" stroke="#4a4a4a" stroke-width="0.7"/>
<path d="M494.90 390.40L496.30 393.10L493.50 393.10Z" fill="#6e6e6e" stroke="#4a4a4a" stroke-width="0.7"/>
<path d="M503.80 383.90L505.20 386.60L502.40 386.60Z" fill="#6e6e6e" stroke="#4a4a4a" stroke-width="0.7"/>
<path d="M436.10 385.10C437.12 385.42 440.60 387.58 442.20 387.00C443.80 386.42 444.62 382.23 445.70 381.60C446.78 380.97 446.80 382.62 448.70 383.20C450.60 383.78 454.50 384.80 457.10 385.10C459.70 385.40 462.33 385.70 464.30 385.00C466.27 384.30 467.77 380.90 468.90 380.90C470.03 380.90 469.45 384.15 471.10 385.00C472.75 385.85 476.43 385.75 478.80 386.00C481.17 386.25 483.25 386.15 485.30 386.50C487.35 386.85 488.02 388.28 491.10 388.10C494.18 387.92 501.68 385.85 503.80 385.40" fill="none" stroke="#959595" stroke-width="0.65"/>
<circle cx="436.10" cy="385.10" r="1.2" fill="#6e6e6e" stroke="#4a4a4a" stroke-width="0.7"/>
<circle cx="442.20" cy="387.00" r="1.2" fill="#6e6e6e" stroke="#4a4a4a" stroke-width="0.7"/>
<circle cx="445.70" cy="381.60" r="1.2" fill="#6e6e6e" stroke="#4a4a4a" stroke-width="0.7"/>
<circle cx="448.70" cy="383.20" r="1.2" fill="#6e6e6e" stroke="#4a4a4a" stroke-width="0.7"/>
<circle cx="457.10" cy="385.10" r="1.2" fill="#6e6e6e" stroke="#4a4a4a" stroke-width="0.7"/>
<circle cx="464.30" cy="385.00" r="1.2" fill="#6e6e6e" stroke="#4a4a4a" stroke-width="0.7"/>
<circle cx="468.90" cy="380.90" r="1.2" fill="#6e6e6e" stroke="#4a4a4a" stroke-width="0.7"/>
<circle cx="471.10" cy="385.00" r="1.2" fill="#6e6e6e" stroke="#4a4a4a" stroke-width="0.7"/>
<circle cx="478.80" cy="386.00" r="1.2" fill="#6e6e6e" stroke="#4a4a4a" stroke-width="0.7"/>
<circle cx="485.30" cy="386.50" r="1.2" fill="#6e6e6e" stroke="#4a4a4a" stroke-width="0.7"/>
<circle cx="491.10" cy="388.10" r="1.2" fill="#6e6e6e" stroke="#4a4a4a" stroke-width="0.7"/>
<circle cx="503.80" cy="385.40" r="1.2" fill="#6e6e6e" stroke="#4a4a4a" stroke-width="0.7"/>
<text class="Sm" x="368.9" y="451.8" font-size="9.4">Time (days)</text>
<text class="Sm" x="474.3" y="451.8" font-size="9.4">Time (days)</text>
<text class="Sm" x="292.4" y="296.5" transform="rotate(-90 292.4 296.5)" font-size="9.7" style="stroke-width:0.18px">Bcl-2 expression</text>
<text class="Sm" x="303.3" y="297.4" transform="rotate(-90 303.3 297.4)" font-size="9.7" style="stroke-width:0.18px">In naive CD4 (%initial)</text>
<text class="Sm" x="291.7" y="394.6" transform="rotate(-90 291.7 394.6)" font-size="9.7" style="stroke-width:0.18px">Bcl-2 expression</text>
<text class="Sm" x="302.6" y="394.4" transform="rotate(-90 302.6 394.4)" font-size="9.7" style="stroke-width:0.18px">In naive CD8 (%initial)</text>
<line x1="59.4" y1="486.8" x2="59.4" y2="550.8" stroke="#9a9a9a" stroke-width="1.0"/>
<line x1="59.4" y1="550.8" x2="137.5" y2="550.8" stroke="#9a9a9a" stroke-width="1.0"/>
<line x1="56.699999999999996" y1="486.80" x2="59.4" y2="486.80" stroke="#9a9a9a" stroke-width="0.9"/>
<text class="Se" x="53.4" y="490.7" font-size="9.2">6</text>
<line x1="56.699999999999996" y1="497.47" x2="59.4" y2="497.47" stroke="#9a9a9a" stroke-width="0.9"/>
<text class="Se" x="53.4" y="501.37" font-size="9.2">5</text>
<line x1="56.699999999999996" y1="508.13" x2="59.4" y2="508.13" stroke="#9a9a9a" stroke-width="0.9"/>
<text class="Se" x="53.4" y="512.03" font-size="9.2">4</text>
<line x1="56.699999999999996" y1="518.80" x2="59.4" y2="518.80" stroke="#9a9a9a" stroke-width="0.9"/>
<text class="Se" x="53.4" y="522.7" font-size="9.2">3</text>
<line x1="56.699999999999996" y1="529.47" x2="59.4" y2="529.47" stroke="#9a9a9a" stroke-width="0.9"/>
<text class="Se" x="53.4" y="533.37" font-size="9.2">2</text>
<line x1="56.699999999999996" y1="540.13" x2="59.4" y2="540.13" stroke="#9a9a9a" stroke-width="0.9"/>
<text class="Se" x="53.4" y="544.03" font-size="9.2">1</text>
<line x1="56.699999999999996" y1="550.80" x2="59.4" y2="550.80" stroke="#9a9a9a" stroke-width="0.9"/>
<text class="Se" x="53.4" y="554.7" font-size="9.2">0</text>
<line x1="59.40" y1="550.8" x2="59.40" y2="552.5999999999999" stroke="#9a9a9a" stroke-width="0.9"/>
<text class="Sm" x="59.4" y="565.6" font-size="9.2">0</text>
<line x1="75.02" y1="550.8" x2="75.02" y2="552.5999999999999" stroke="#9a9a9a" stroke-width="0.9"/>
<text class="Sm" x="76.0" y="565.6" font-size="9.2">20</text>
<line x1="90.64" y1="550.8" x2="90.64" y2="552.5999999999999" stroke="#9a9a9a" stroke-width="0.9"/>
<text class="Sm" x="91.4" y="565.6" font-size="9.2">40</text>
<line x1="106.26" y1="550.8" x2="106.26" y2="552.5999999999999" stroke="#9a9a9a" stroke-width="0.9"/>
<text class="Sm" x="106.7" y="565.6" font-size="9.2">60</text>
<line x1="121.88" y1="550.8" x2="121.88" y2="552.5999999999999" stroke="#9a9a9a" stroke-width="0.9"/>
<text class="Sm" x="122.3" y="565.6" font-size="9.2">80</text>
<line x1="137.50" y1="550.8" x2="137.50" y2="552.5999999999999" stroke="#9a9a9a" stroke-width="0.9"/>
<text class="Sm" x="140.0" y="565.6" font-size="9.2">100</text>
<polyline points="59.30,501.60 64.50,503.90 69.70,501.60 75.80,500.80 81.00,502.20 87.00,498.20 91.30,500.80 96.50,500.80 101.70,502.20 108.70,500.80 114.70,501.60 120.80,500.80 126.00,502.50 131.20,499.00 137.20,499.00" fill="none" stroke="#999999" stroke-width="0.65"/>
<circle cx="59.30" cy="501.60" r="1.6" fill="#ffffff" stroke="#808080" stroke-width="0.7"/>
<circle cx="64.50" cy="503.90" r="1.6" fill="#ffffff" stroke="#808080" stroke-width="0.7"/>
<rect x="68.10" y="500.00" width="3.2" height="3.2" fill="#ffffff" stroke="#808080" stroke-width="0.7"/>
<circle cx="75.80" cy="500.80" r="1.6" fill="#ffffff" stroke="#808080" stroke-width="0.7"/>
<rect x="79.40" y="500.60" width="3.2" height="3.2" fill="#ffffff" stroke="#808080" stroke-width="0.7"/>
<rect x="85.40" y="496.60" width="3.2" height="3.2" fill="#ffffff" stroke="#808080" stroke-width="0.7"/>
<circle cx="91.30" cy="500.80" r="1.6" fill="#ffffff" stroke="#808080" stroke-width="0.7"/>
<circle cx="96.50" cy="500.80" r="1.6" fill="#ffffff" stroke="#808080" stroke-width="0.7"/>
<circle cx="101.70" cy="502.20" r="1.6" fill="#ffffff" stroke="#808080" stroke-width="0.7"/>
<circle cx="108.70" cy="500.80" r="1.6" fill="#ffffff" stroke="#808080" stroke-width="0.7"/>
<circle cx="114.70" cy="501.60" r="1.6" fill="#ffffff" stroke="#808080" stroke-width="0.7"/>
<rect x="119.20" y="499.20" width="3.2" height="3.2" fill="#ffffff" stroke="#808080" stroke-width="0.7"/>
<rect x="124.40" y="500.90" width="3.2" height="3.2" fill="#ffffff" stroke="#808080" stroke-width="0.7"/>
<circle cx="131.20" cy="499.00" r="1.6" fill="#ffffff" stroke="#808080" stroke-width="0.7"/>
<rect x="135.60" y="497.40" width="3.2" height="3.2" fill="#ffffff" stroke="#808080" stroke-width="0.7"/>
<polyline points="59.30,501.60 64.50,503.90 69.70,504.20 75.80,490.70 81.00,502.20 87.00,502.20 91.30,500.80 96.50,500.80 101.70,502.20 108.70,500.80 114.70,501.60 120.80,504.20 126.00,502.50 131.20,493.00 137.20,499.00" fill="none" stroke="#999999" stroke-width="0.65"/>
<circle cx="59.30" cy="501.60" r="1.6" fill="#ffffff" stroke="#808080" stroke-width="0.7"/>
<circle cx="64.50" cy="503.90" r="1.6" fill="#ffffff" stroke="#808080" stroke-width="0.7"/>
<rect x="68.10" y="502.60" width="3.2" height="3.2" fill="#ffffff" stroke="#808080" stroke-width="0.7"/>
<path d="M75.80 488.80L77.60 492.30L74.00 492.30Z" fill="#ffffff" stroke="#808080" stroke-width="0.7"/>
<rect x="79.40" y="500.60" width="3.2" height="3.2" fill="#ffffff" stroke="#808080" stroke-width="0.7"/>
<rect x="85.40" y="500.60" width="3.2" height="3.2" fill="#ffffff" stroke="#808080" stroke-width="0.7"/>
<circle cx="91.30" cy="500.80" r="1.6" fill="#ffffff" stroke="#808080" stroke-width="0.7"/>
<circle cx="96.50" cy="500.80" r="1.6" fill="#ffffff" stroke="#808080" stroke-width="0.7"/>
<circle cx="101.70" cy="502.20" r="1.6" fill="#ffffff" stroke="#808080" stroke-width="0.7"/>
<circle cx="108.70" cy="500.80" r="1.6" fill="#ffffff" stroke="#808080" stroke-width="0.7"/>
<circle cx="114.70" cy="501.60" r="1.6" fill="#ffffff" stroke="#808080" stroke-width="0.7"/>
<circle cx="120.80" cy="504.20" r="1.6" fill="#ffffff" stroke="#808080" stroke-width="0.7"/>
<rect x="124.40" y="500.90" width="3.2" height="3.2" fill="#ffffff" stroke="#808080" stroke-width="0.7"/>
<path d="M131.20 491.10L133.00 494.60L129.40 494.60Z" fill="#ffffff" stroke="#808080" stroke-width="0.7"/>
<rect x="135.60" y="497.40" width="3.2" height="3.2" fill="#ffffff" stroke="#808080" stroke-width="0.7"/>
<line x1="158.4" y1="486.8" x2="158.4" y2="550.8" stroke="#9a9a9a" stroke-width="1.0"/>
<line x1="158.4" y1="550.8" x2="235.4" y2="550.8" stroke="#9a9a9a" stroke-width="1.0"/>
<line x1="155.70000000000002" y1="486.80" x2="158.4" y2="486.80" stroke="#9a9a9a" stroke-width="0.9"/>
<text class="Se" x="152.4" y="490.7" font-size="9.2">6</text>
<line x1="155.70000000000002" y1="497.47" x2="158.4" y2="497.47" stroke="#9a9a9a" stroke-width="0.9"/>
<text class="Se" x="152.4" y="501.37" font-size="9.2">5</text>
<line x1="155.70000000000002" y1="508.13" x2="158.4" y2="508.13" stroke="#9a9a9a" stroke-width="0.9"/>
<text class="Se" x="152.4" y="512.03" font-size="9.2">4</text>
<line x1="155.70000000000002" y1="518.80" x2="158.4" y2="518.80" stroke="#9a9a9a" stroke-width="0.9"/>
<text class="Se" x="152.4" y="522.7" font-size="9.2">3</text>
<line x1="155.70000000000002" y1="529.47" x2="158.4" y2="529.47" stroke="#9a9a9a" stroke-width="0.9"/>
<text class="Se" x="152.4" y="533.37" font-size="9.2">2</text>
<line x1="155.70000000000002" y1="540.13" x2="158.4" y2="540.13" stroke="#9a9a9a" stroke-width="0.9"/>
<text class="Se" x="152.4" y="544.03" font-size="9.2">1</text>
<line x1="155.70000000000002" y1="550.80" x2="158.4" y2="550.80" stroke="#9a9a9a" stroke-width="0.9"/>
<text class="Se" x="152.4" y="554.7" font-size="9.2">0</text>
<line x1="158.40" y1="550.8" x2="158.40" y2="552.5999999999999" stroke="#9a9a9a" stroke-width="0.9"/>
<text class="Sm" x="158.9" y="565.6" font-size="9.2">0</text>
<line x1="173.80" y1="550.8" x2="173.80" y2="552.5999999999999" stroke="#9a9a9a" stroke-width="0.9"/>
<text class="Sm" x="175.3" y="565.6" font-size="9.2">20</text>
<line x1="189.20" y1="550.8" x2="189.20" y2="552.5999999999999" stroke="#9a9a9a" stroke-width="0.9"/>
<text class="Sm" x="190.7" y="565.6" font-size="9.2">40</text>
<line x1="204.60" y1="550.8" x2="204.60" y2="552.5999999999999" stroke="#9a9a9a" stroke-width="0.9"/>
<text class="Sm" x="206.1" y="565.6" font-size="9.2">60</text>
<line x1="220.00" y1="550.8" x2="220.00" y2="552.5999999999999" stroke="#9a9a9a" stroke-width="0.9"/>
<text class="Sm" x="221.4" y="565.6" font-size="9.2">80</text>
<line x1="235.40" y1="550.8" x2="235.40" y2="552.5999999999999" stroke="#9a9a9a" stroke-width="0.9"/>
<text class="Sm" x="238.9" y="565.6" font-size="9.2">100</text>
<polyline points="158.30,496.70 164.00,496.70 166.10,503.20 168.90,500.00 171.30,498.30 173.00,497.50 179.50,497.50 185.20,505.70 190.10,498.30 195.00,498.30 198.30,498.30 206.50,504.10 220.40,496.40 225.30,497.00 230.20,495.90" fill="none" stroke="#959595" stroke-width="0.65"/>
<circle cx="158.30" cy="496.70" r="1.2" fill="#6e6e6e" stroke="#4a4a4a" stroke-width="0.7"/>
<circle cx="164.00" cy="496.70" r="1.2" fill="#6e6e6e" stroke="#4a4a4a" stroke-width="0.7"/>
<circle cx="166.10" cy="503.20" r="1.2" fill="#6e6e6e" stroke="#4a4a4a" stroke-width="0.7"/>
<circle cx="168.90" cy="500.00" r="1.2" fill="#6e6e6e" stroke="#4a4a4a" stroke-width="0.7"/>
<circle cx="171.30" cy="498.30" r="1.2" fill="#6e6e6e" stroke="#4a4a4a" stroke-width="0.7"/>
<circle cx="173.00" cy="497.50" r="1.2" fill="#6e6e6e" stroke="#4a4a4a" stroke-width="0.7"/>
<circle cx="179.50" cy="497.50" r="1.2" fill="#6e6e6e" stroke="#4a4a4a" stroke-width="0.7"/>
<circle cx="185.20" cy="505.70" r="1.2" fill="#6e6e6e" stroke="#4a4a4a" stroke-width="0.7"/>
<circle cx="190.10" cy="498.30" r="1.2" fill="#6e6e6e" stroke="#4a4a4a" stroke-width="0.7"/>
<circle cx="195.00" cy="498.30" r="1.2" fill="#6e6e6e" stroke="#4a4a4a" stroke-width="0.7"/>
<circle cx="198.30" cy="498.30" r="1.2" fill="#6e6e6e" stroke="#4a4a4a" stroke-width="0.7"/>
<circle cx="206.50" cy="504.10" r="1.2" fill="#6e6e6e" stroke="#4a4a4a" stroke-width="0.7"/>
<circle cx="220.40" cy="496.40" r="1.2" fill="#6e6e6e" stroke="#4a4a4a" stroke-width="0.7"/>
<circle cx="225.30" cy="497.00" r="1.2" fill="#6e6e6e" stroke="#4a4a4a" stroke-width="0.7"/>
<circle cx="230.20" cy="495.90" r="1.2" fill="#6e6e6e" stroke="#4a4a4a" stroke-width="0.7"/>
<polyline points="158.30,508.20 165.60,511.40 168.90,502.40 173.00,511.40 179.50,494.30 182.00,490.20 190.10,495.90 195.90,491.80 201.60,489.40 206.50,504.10 220.40,494.30 225.30,490.20 230.20,493.80" fill="none" stroke="#959595" stroke-width="0.65"/>
<path d="M158.30 506.70L159.70 509.40L156.90 509.40Z" fill="#6e6e6e" stroke="#4a4a4a" stroke-width="0.7"/>
<path d="M165.60 509.90L167.00 512.60L164.20 512.60Z" fill="#6e6e6e" stroke="#4a4a4a" stroke-width="0.7"/>
<path d="M168.90 500.90L170.30 503.60L167.50 503.60Z" fill="#6e6e6e" stroke="#4a4a4a" stroke-width="0.7"/>
<path d="M173.00 509.90L174.40 512.60L171.60 512.60Z" fill="#6e6e6e" stroke="#4a4a4a" stroke-width="0.7"/>
<path d="M179.50 492.80L180.90 495.50L178.10 495.50Z" fill="#6e6e6e" stroke="#4a4a4a" stroke-width="0.7"/>
<path d="M182.00 488.70L183.40 491.40L180.60 491.40Z" fill="#6e6e6e" stroke="#4a4a4a" stroke-width="0.7"/>
<path d="M190.10 494.40L191.50 497.10L188.70 497.10Z" fill="#6e6e6e" stroke="#4a4a4a" stroke-width="0.7"/>
<path d="M195.90 490.30L197.30 493.00L194.50 493.00Z" fill="#6e6e6e" stroke="#4a4a4a" stroke-width="0.7"/>
<path d="M201.60 487.90L203.00 490.60L200.20 490.60Z" fill="#6e6e6e" stroke="#4a4a4a" stroke-width="0.7"/>
<path d="M206.50 502.60L207.90 505.30L205.10 505.30Z" fill="#6e6e6e" stroke="#4a4a4a" stroke-width="0.7"/>
<path d="M220.40 492.80L221.80 495.50L219.00 495.50Z" fill="#6e6e6e" stroke="#4a4a4a" stroke-width="0.7"/>
<path d="M225.30 488.70L226.70 491.40L223.90 491.40Z" fill="#6e6e6e" stroke="#4a4a4a" stroke-width="0.7"/>
<path d="M230.20 492.30L231.60 495.00L228.80 495.00Z" fill="#6e6e6e" stroke="#4a4a4a" stroke-width="0.7"/>
<polyline points="158.30,496.70 164.00,489.40 166.10,503.20 171.30,498.30 182.00,493.40 220.40,494.30 225.30,493.40 230.20,491.80" fill="none" stroke="#959595" stroke-width="0.65"/>
<rect x="157.10" y="495.50" width="2.4" height="2.4" fill="#6e6e6e" stroke="#4a4a4a" stroke-width="0.7"/>
<rect x="162.80" y="488.20" width="2.4" height="2.4" fill="#6e6e6e" stroke="#4a4a4a" stroke-width="0.7"/>
<rect x="164.90" y="502.00" width="2.4" height="2.4" fill="#6e6e6e" stroke="#4a4a4a" stroke-width="0.7"/>
<rect x="170.10" y="497.10" width="2.4" height="2.4" fill="#6e6e6e" stroke="#4a4a4a" stroke-width="0.7"/>
<rect x="180.80" y="492.20" width="2.4" height="2.4" fill="#6e6e6e" stroke="#4a4a4a" stroke-width="0.7"/>
<rect x="219.20" y="493.10" width="2.4" height="2.4" fill="#6e6e6e" stroke="#4a4a4a" stroke-width="0.7"/>
<rect x="224.10" y="492.20" width="2.4" height="2.4" fill="#6e6e6e" stroke="#4a4a4a" stroke-width="0.7"/>
<rect x="229.00" y="490.60" width="2.4" height="2.4" fill="#6e6e6e" stroke="#4a4a4a" stroke-width="0.7"/>
<text class="Sm" x="98.2" y="584.6" font-size="9.4">Times (days)</text>
<text class="Sm" x="202.6" y="584.6" font-size="9.4">Times (days)</text>
<text class="Sm" x="30.0" y="517.1" transform="rotate(-90 30.0 517.1)" font-size="9.6" style="stroke-width:0.18px">Viral Load</text>
<text class="Sm" x="40.6" y="518.5" transform="rotate(-90 40.6 518.5)" font-size="9.6" style="stroke-width:0.18px">(copies/mL)</text>
</svg>
</body></html>
